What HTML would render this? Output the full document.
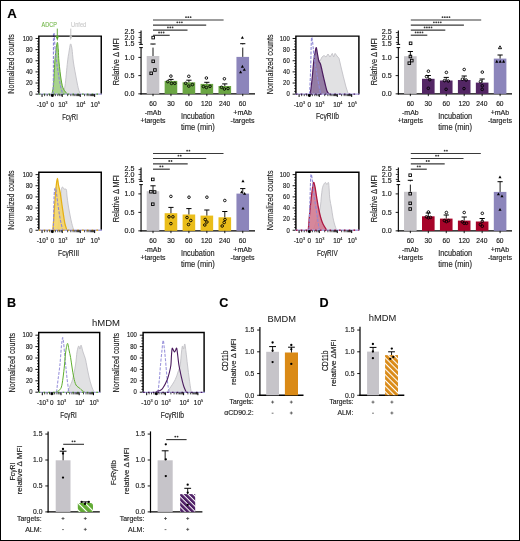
<!DOCTYPE html>
<html><head><meta charset="utf-8"><style>
html,body{margin:0;padding:0;background:#fff;}
body{width:520px;height:541px;overflow:hidden;position:relative;}
.frame{position:absolute;left:0;top:0;width:518px;height:539px;border:1px solid #000;pointer-events:none;}
svg{display:block;position:absolute;left:0;top:0;will-change:transform;}
text{font-family:"Liberation Sans",sans-serif;}
</style></head><body>
<svg width="520" height="541" viewBox="0 0 520 541" font-family="Liberation Sans, sans-serif">
<rect x="0" y="0" width="520" height="541" fill="#fff"/>
<defs><pattern id="stG" patternUnits="userSpaceOnUse" width="5.0" height="5.0" patternTransform="rotate(-45)"><rect width="5.0" height="5.0" fill="#fff"/><rect width="3.9" height="5.0" fill="#62ab35"/></pattern><pattern id="stP" patternUnits="userSpaceOnUse" width="3.6" height="3.6" patternTransform="rotate(-45)"><rect width="3.6" height="3.6" fill="#fff"/><rect width="2.6" height="3.6" fill="#4e1f66"/></pattern><pattern id="stO" patternUnits="userSpaceOnUse" width="4.0" height="4.0" patternTransform="rotate(-45)"><rect width="4.0" height="4.0" fill="#fff"/><rect width="2.9" height="4.0" fill="#da8a16"/></pattern></defs>
<text x="7.30" y="17.60" font-size="13.2" text-anchor="start" fill="#000" stroke="#000" stroke-width="0.15" font-weight="bold">A</text>
<text x="7.10" y="307.20" font-size="12.6" text-anchor="start" fill="#000" stroke="#000" stroke-width="0.15" font-weight="bold">B</text>
<text x="219.30" y="307.30" font-size="12.6" text-anchor="start" fill="#000" stroke="#000" stroke-width="0.15" font-weight="bold">C</text>
<text x="319.60" y="307.20" font-size="12.6" text-anchor="start" fill="#000" stroke="#000" stroke-width="0.15" font-weight="bold">D</text>
<clipPath id="c1"><rect x="38.85" y="33.10" width="62.40" height="61.05"/></clipPath>
<text x="32.65" y="40.75" font-size="6.5" text-anchor="end" fill="#1e1e1e" stroke="#1e1e1e" stroke-width="0.16" textLength="9.90" lengthAdjust="spacingAndGlyphs">100</text>
<line x1="35.55" y1="38.50" x2="38.85" y2="38.50" stroke="#000" stroke-width="0.9" />
<text x="32.65" y="51.88" font-size="6.5" text-anchor="end" fill="#1e1e1e" stroke="#1e1e1e" stroke-width="0.16" textLength="6.60" lengthAdjust="spacingAndGlyphs">80</text>
<line x1="35.55" y1="49.63" x2="38.85" y2="49.63" stroke="#000" stroke-width="0.9" />
<text x="32.65" y="63.01" font-size="6.5" text-anchor="end" fill="#1e1e1e" stroke="#1e1e1e" stroke-width="0.16" textLength="6.60" lengthAdjust="spacingAndGlyphs">60</text>
<line x1="35.55" y1="60.76" x2="38.85" y2="60.76" stroke="#000" stroke-width="0.9" />
<text x="32.65" y="74.14" font-size="6.5" text-anchor="end" fill="#1e1e1e" stroke="#1e1e1e" stroke-width="0.16" textLength="6.60" lengthAdjust="spacingAndGlyphs">40</text>
<line x1="35.55" y1="71.89" x2="38.85" y2="71.89" stroke="#000" stroke-width="0.9" />
<text x="32.65" y="85.27" font-size="6.5" text-anchor="end" fill="#1e1e1e" stroke="#1e1e1e" stroke-width="0.16" textLength="6.60" lengthAdjust="spacingAndGlyphs">20</text>
<line x1="35.55" y1="83.02" x2="38.85" y2="83.02" stroke="#000" stroke-width="0.9" />
<text x="32.65" y="96.40" font-size="6.5" text-anchor="end" fill="#1e1e1e" stroke="#1e1e1e" stroke-width="0.16" textLength="3.30" lengthAdjust="spacingAndGlyphs">0</text>
<line x1="35.55" y1="94.15" x2="38.85" y2="94.15" stroke="#000" stroke-width="0.9" />
<line x1="37.15" y1="91.37" x2="38.85" y2="91.37" stroke="#000" stroke-width="0.8" />
<line x1="37.15" y1="88.59" x2="38.85" y2="88.59" stroke="#000" stroke-width="0.8" />
<line x1="37.15" y1="85.80" x2="38.85" y2="85.80" stroke="#000" stroke-width="0.8" />
<line x1="37.15" y1="80.24" x2="38.85" y2="80.24" stroke="#000" stroke-width="0.8" />
<line x1="37.15" y1="77.46" x2="38.85" y2="77.46" stroke="#000" stroke-width="0.8" />
<line x1="37.15" y1="74.67" x2="38.85" y2="74.67" stroke="#000" stroke-width="0.8" />
<line x1="37.15" y1="69.11" x2="38.85" y2="69.11" stroke="#000" stroke-width="0.8" />
<line x1="37.15" y1="66.33" x2="38.85" y2="66.33" stroke="#000" stroke-width="0.8" />
<line x1="37.15" y1="63.54" x2="38.85" y2="63.54" stroke="#000" stroke-width="0.8" />
<line x1="37.15" y1="57.98" x2="38.85" y2="57.98" stroke="#000" stroke-width="0.8" />
<line x1="37.15" y1="55.20" x2="38.85" y2="55.20" stroke="#000" stroke-width="0.8" />
<line x1="37.15" y1="52.41" x2="38.85" y2="52.41" stroke="#000" stroke-width="0.8" />
<line x1="37.15" y1="46.85" x2="38.85" y2="46.85" stroke="#000" stroke-width="0.8" />
<line x1="37.15" y1="44.06" x2="38.85" y2="44.06" stroke="#000" stroke-width="0.8" />
<line x1="37.15" y1="41.28" x2="38.85" y2="41.28" stroke="#000" stroke-width="0.8" />
<text x="14.40" y="64.00" font-size="8.6" text-anchor="middle" fill="#1e1e1e" stroke="#1e1e1e" stroke-width="0.16" textLength="59.50" lengthAdjust="spacingAndGlyphs" transform="rotate(-90 14.40 64.00)">Normalized counts</text>
<path d="M62.60,94.15 C63.00,92.79 64.18,91.36 65.00,86.00 C65.82,80.64 66.78,68.00 67.50,62.00 C68.22,56.00 68.78,53.02 69.30,50.00 C69.82,46.98 70.15,44.07 70.60,43.90 C71.05,43.73 71.53,45.98 72.00,49.00 C72.47,52.02 72.63,56.83 73.40,62.00 C74.17,67.17 75.75,75.50 76.60,80.00 C77.45,84.50 77.88,86.64 78.50,89.00 C79.12,91.36 80.00,93.29 80.30,94.15 Z" fill="#e1e1e3" fill-opacity="1.0" stroke="none" clip-path="url(#c1)"/>
<path d="M62.60,94.15 C63.00,92.79 64.18,91.36 65.00,86.00 C65.82,80.64 66.78,68.00 67.50,62.00 C68.22,56.00 68.78,53.02 69.30,50.00 C69.82,46.98 70.15,44.07 70.60,43.90 C71.05,43.73 71.53,45.98 72.00,49.00 C72.47,52.02 72.63,56.83 73.40,62.00 C74.17,67.17 75.75,75.50 76.60,80.00 C77.45,84.50 77.88,86.64 78.50,89.00 C79.12,91.36 80.00,93.29 80.30,94.15" fill="none" stroke="#c2c1c6" stroke-width="0.9" stroke-linejoin="round" clip-path="url(#c1)"/>
<path d="M51.80,94.15 C52.08,92.62 53.00,90.36 53.50,85.00 C54.00,79.64 54.38,67.83 54.80,62.00 C55.22,56.17 55.57,53.28 56.00,50.00 C56.43,46.72 57.02,42.30 57.40,42.30 C57.78,42.30 58.03,46.72 58.30,50.00 C58.57,53.28 58.52,57.00 59.00,62.00 C59.48,67.00 60.45,75.50 61.20,80.00 C61.95,84.50 62.45,86.64 63.50,89.00 C64.55,91.36 66.83,93.29 67.50,94.15 Z" fill="#a4d189" fill-opacity="0.95" stroke="none" clip-path="url(#c1)"/>
<path d="M51.80,94.15 C52.08,92.62 53.00,90.36 53.50,85.00 C54.00,79.64 54.38,67.83 54.80,62.00 C55.22,56.17 55.57,53.28 56.00,50.00 C56.43,46.72 57.02,42.30 57.40,42.30 C57.78,42.30 58.03,46.72 58.30,50.00 C58.57,53.28 58.52,57.00 59.00,62.00 C59.48,67.00 60.45,75.50 61.20,80.00 C61.95,84.50 62.45,86.64 63.50,89.00 C64.55,91.36 66.83,93.29 67.50,94.15" fill="none" stroke="#5ea832" stroke-width="1.0" stroke-linejoin="round" clip-path="url(#c1)"/>
<path d="M53.20,94.15 C53.23,90.12 53.35,80.69 53.40,70.00 C53.45,59.31 53.42,36.67 53.50,30.00 C53.58,23.33 53.58,26.33 53.90,30.00 C54.22,33.67 54.75,45.33 55.40,52.00 C56.05,58.67 56.95,64.33 57.80,70.00 C58.65,75.67 59.67,81.97 60.50,86.00 C61.33,90.03 62.42,92.79 62.80,94.15" fill="none" stroke="#8e88d6" stroke-width="1.1" stroke-linejoin="round" stroke-dasharray="3,1.4" clip-path="url(#c1)"/>
<path d="M38.85,94.15 L38.85,36.10 L101.25,36.10 L101.25,94.15" fill="none" stroke="#000" stroke-width="1.45" stroke-linejoin="miter"/>
<line x1="38.15" y1="94.15" x2="101.95" y2="94.15" stroke="#a7a2dc" stroke-width="1.4"/>
<line x1="38.85" y1="94.15" x2="101.25" y2="94.15" stroke="#56a42a" stroke-width="1.3" stroke-dasharray="1.6,3.2"/>
<line x1="42.05" y1="94.15" x2="42.05" y2="96.95" stroke="#000" stroke-width="1.0" />
<line x1="52.35" y1="94.15" x2="52.35" y2="96.95" stroke="#000" stroke-width="1.0" />
<line x1="62.25" y1="94.15" x2="62.25" y2="96.95" stroke="#000" stroke-width="1.0" />
<line x1="80.25" y1="94.15" x2="80.25" y2="96.95" stroke="#000" stroke-width="1.0" />
<line x1="94.65" y1="94.15" x2="94.65" y2="96.95" stroke="#000" stroke-width="1.0" />
<rect x="50.95" y="94.15" width="2.80" height="2.40" fill="#000" />
<line x1="67.67" y1="94.15" x2="67.67" y2="96.15" stroke="#000" stroke-width="0.75" />
<line x1="70.84" y1="94.15" x2="70.84" y2="96.15" stroke="#000" stroke-width="0.75" />
<line x1="73.09" y1="94.15" x2="73.09" y2="96.15" stroke="#000" stroke-width="0.75" />
<line x1="74.83" y1="94.15" x2="74.83" y2="96.15" stroke="#000" stroke-width="0.75" />
<line x1="76.26" y1="94.15" x2="76.26" y2="96.15" stroke="#000" stroke-width="0.75" />
<line x1="77.46" y1="94.15" x2="77.46" y2="96.15" stroke="#000" stroke-width="0.75" />
<line x1="78.51" y1="94.15" x2="78.51" y2="96.15" stroke="#000" stroke-width="0.75" />
<line x1="79.43" y1="94.15" x2="79.43" y2="96.15" stroke="#000" stroke-width="0.75" />
<line x1="84.58" y1="94.15" x2="84.58" y2="96.15" stroke="#000" stroke-width="0.75" />
<line x1="87.12" y1="94.15" x2="87.12" y2="96.15" stroke="#000" stroke-width="0.75" />
<line x1="88.92" y1="94.15" x2="88.92" y2="96.15" stroke="#000" stroke-width="0.75" />
<line x1="90.32" y1="94.15" x2="90.32" y2="96.15" stroke="#000" stroke-width="0.75" />
<line x1="91.46" y1="94.15" x2="91.46" y2="96.15" stroke="#000" stroke-width="0.75" />
<line x1="92.42" y1="94.15" x2="92.42" y2="96.15" stroke="#000" stroke-width="0.75" />
<line x1="93.25" y1="94.15" x2="93.25" y2="96.15" stroke="#000" stroke-width="0.75" />
<line x1="93.99" y1="94.15" x2="93.99" y2="96.15" stroke="#000" stroke-width="0.75" />
<line x1="44.62" y1="94.15" x2="44.62" y2="96.15" stroke="#000" stroke-width="0.75" />
<line x1="47.20" y1="94.15" x2="47.20" y2="96.15" stroke="#000" stroke-width="0.75" />
<line x1="49.78" y1="94.15" x2="49.78" y2="96.15" stroke="#000" stroke-width="0.75" />
<line x1="55.32" y1="94.15" x2="55.32" y2="96.15" stroke="#000" stroke-width="0.75" />
<line x1="57.80" y1="94.15" x2="57.80" y2="96.15" stroke="#000" stroke-width="0.75" />
<line x1="59.77" y1="94.15" x2="59.77" y2="96.15" stroke="#000" stroke-width="0.75" />
<line x1="61.26" y1="94.15" x2="61.26" y2="96.15" stroke="#000" stroke-width="0.75" />
<text x="42.35" y="106.60" font-size="6.4" text-anchor="middle" fill="#1e1e1e" stroke="#1e1e1e" stroke-width="0.16">-10<tspan font-size="3.9" dy="-2.6" stroke-width="0.12">3</tspan></text>
<text x="52.35" y="106.60" font-size="6.4" text-anchor="middle" fill="#1e1e1e" stroke="#1e1e1e" stroke-width="0.16">0</text>
<text x="62.85" y="106.60" font-size="6.4" text-anchor="middle" fill="#1e1e1e" stroke="#1e1e1e" stroke-width="0.16">10<tspan font-size="3.9" dy="-2.6" stroke-width="0.12">3</tspan></text>
<text x="80.85" y="106.60" font-size="6.4" text-anchor="middle" fill="#1e1e1e" stroke="#1e1e1e" stroke-width="0.16">10<tspan font-size="3.9" dy="-2.6" stroke-width="0.12">4</tspan></text>
<text x="95.25" y="106.60" font-size="6.4" text-anchor="middle" fill="#1e1e1e" stroke="#1e1e1e" stroke-width="0.16">10<tspan font-size="3.9" dy="-2.6" stroke-width="0.12">5</tspan></text>
<text x="70.00" y="119.50" font-size="8.4" text-anchor="middle" fill="#1e1e1e" stroke="#1e1e1e" stroke-width="0.16" textLength="15.60" lengthAdjust="spacingAndGlyphs">FcγRI</text>
<text x="49.20" y="26.50" font-size="6.8" text-anchor="middle" fill="#6fb544" stroke="#6fb544" stroke-width="0.1" textLength="15.20" lengthAdjust="spacingAndGlyphs">ADCP</text>
<text x="78.70" y="26.50" font-size="6.8" text-anchor="middle" fill="#c8c8c8" stroke="#c8c8c8" stroke-width="0.1" textLength="15.20" lengthAdjust="spacingAndGlyphs">Unfed</text>
<line x1="57.30" y1="28.60" x2="57.30" y2="38.00" stroke="#56a42a" stroke-width="0.9" />
<path d="M55.7,36.0 L58.9,36.0 L57.3,41.0 Z" fill="#56a42a"/>
<line x1="70.80" y1="28.60" x2="70.80" y2="37.60" stroke="#bdbdbd" stroke-width="0.9" />
<path d="M69.3,35.6 L72.3,35.6 L70.8,40.2 Z" fill="#bdbdbd"/>
<clipPath id="c2"><rect x="295.90" y="33.10" width="63.00" height="61.05"/></clipPath>
<text x="289.70" y="40.75" font-size="6.5" text-anchor="end" fill="#1e1e1e" stroke="#1e1e1e" stroke-width="0.16" textLength="9.90" lengthAdjust="spacingAndGlyphs">100</text>
<line x1="292.60" y1="38.50" x2="295.90" y2="38.50" stroke="#000" stroke-width="0.9" />
<text x="289.70" y="51.88" font-size="6.5" text-anchor="end" fill="#1e1e1e" stroke="#1e1e1e" stroke-width="0.16" textLength="6.60" lengthAdjust="spacingAndGlyphs">80</text>
<line x1="292.60" y1="49.63" x2="295.90" y2="49.63" stroke="#000" stroke-width="0.9" />
<text x="289.70" y="63.01" font-size="6.5" text-anchor="end" fill="#1e1e1e" stroke="#1e1e1e" stroke-width="0.16" textLength="6.60" lengthAdjust="spacingAndGlyphs">60</text>
<line x1="292.60" y1="60.76" x2="295.90" y2="60.76" stroke="#000" stroke-width="0.9" />
<text x="289.70" y="74.14" font-size="6.5" text-anchor="end" fill="#1e1e1e" stroke="#1e1e1e" stroke-width="0.16" textLength="6.60" lengthAdjust="spacingAndGlyphs">40</text>
<line x1="292.60" y1="71.89" x2="295.90" y2="71.89" stroke="#000" stroke-width="0.9" />
<text x="289.70" y="85.27" font-size="6.5" text-anchor="end" fill="#1e1e1e" stroke="#1e1e1e" stroke-width="0.16" textLength="6.60" lengthAdjust="spacingAndGlyphs">20</text>
<line x1="292.60" y1="83.02" x2="295.90" y2="83.02" stroke="#000" stroke-width="0.9" />
<text x="289.70" y="96.40" font-size="6.5" text-anchor="end" fill="#1e1e1e" stroke="#1e1e1e" stroke-width="0.16" textLength="3.30" lengthAdjust="spacingAndGlyphs">0</text>
<line x1="292.60" y1="94.15" x2="295.90" y2="94.15" stroke="#000" stroke-width="0.9" />
<line x1="294.20" y1="91.37" x2="295.90" y2="91.37" stroke="#000" stroke-width="0.8" />
<line x1="294.20" y1="88.59" x2="295.90" y2="88.59" stroke="#000" stroke-width="0.8" />
<line x1="294.20" y1="85.80" x2="295.90" y2="85.80" stroke="#000" stroke-width="0.8" />
<line x1="294.20" y1="80.24" x2="295.90" y2="80.24" stroke="#000" stroke-width="0.8" />
<line x1="294.20" y1="77.46" x2="295.90" y2="77.46" stroke="#000" stroke-width="0.8" />
<line x1="294.20" y1="74.67" x2="295.90" y2="74.67" stroke="#000" stroke-width="0.8" />
<line x1="294.20" y1="69.11" x2="295.90" y2="69.11" stroke="#000" stroke-width="0.8" />
<line x1="294.20" y1="66.33" x2="295.90" y2="66.33" stroke="#000" stroke-width="0.8" />
<line x1="294.20" y1="63.54" x2="295.90" y2="63.54" stroke="#000" stroke-width="0.8" />
<line x1="294.20" y1="57.98" x2="295.90" y2="57.98" stroke="#000" stroke-width="0.8" />
<line x1="294.20" y1="55.20" x2="295.90" y2="55.20" stroke="#000" stroke-width="0.8" />
<line x1="294.20" y1="52.41" x2="295.90" y2="52.41" stroke="#000" stroke-width="0.8" />
<line x1="294.20" y1="46.85" x2="295.90" y2="46.85" stroke="#000" stroke-width="0.8" />
<line x1="294.20" y1="44.06" x2="295.90" y2="44.06" stroke="#000" stroke-width="0.8" />
<line x1="294.20" y1="41.28" x2="295.90" y2="41.28" stroke="#000" stroke-width="0.8" />
<text x="272.60" y="64.30" font-size="8.6" text-anchor="middle" fill="#1e1e1e" stroke="#1e1e1e" stroke-width="0.16" textLength="59.80" lengthAdjust="spacingAndGlyphs" transform="rotate(-90 272.60 64.30)">Normalized counts</text>
<path d="M313.20,94.15 L315.00,75.00 L317.00,62.00 L318.50,59.50 L320.00,61.00 L322.00,57.00 L324.00,55.50 L326.00,57.00 L328.00,54.00 L330.00,57.00 L332.30,53.40 L333.70,57.00 L335.10,53.40 L337.00,56.00 L339.00,58.30 L341.00,67.00 L343.40,76.80 L346.00,87.00 L348.30,94.15 Z" fill="#e1e1e3" fill-opacity="1.0" stroke="none" clip-path="url(#c2)"/>
<path d="M313.20,94.15 L315.00,75.00 L317.00,62.00 L318.50,59.50 L320.00,61.00 L322.00,57.00 L324.00,55.50 L326.00,57.00 L328.00,54.00 L330.00,57.00 L332.30,53.40 L333.70,57.00 L335.10,53.40 L337.00,56.00 L339.00,58.30 L341.00,67.00 L343.40,76.80 L346.00,87.00 L348.30,94.15" fill="none" stroke="#c2c1c6" stroke-width="0.9" stroke-linejoin="round" clip-path="url(#c2)"/>
<path d="M310.20,94.15 C310.50,91.79 311.40,85.56 312.00,80.00 C312.60,74.44 313.27,65.47 313.80,60.80 C314.33,56.13 314.78,54.20 315.20,52.00 C315.62,49.80 315.95,47.43 316.30,47.60 C316.65,47.77 316.88,50.80 317.30,53.00 C317.72,55.20 318.25,58.88 318.80,60.80 C319.35,62.72 319.90,62.13 320.60,64.50 C321.30,66.87 322.28,71.92 323.00,75.00 C323.72,78.08 324.23,80.33 324.90,83.00 C325.57,85.67 326.28,89.14 327.00,91.00 C327.72,92.86 328.83,93.62 329.20,94.15 Z" fill="#8c719c" fill-opacity="0.9" stroke="none" clip-path="url(#c2)"/>
<path d="M310.20,94.15 C310.50,91.79 311.40,85.56 312.00,80.00 C312.60,74.44 313.27,65.47 313.80,60.80 C314.33,56.13 314.78,54.20 315.20,52.00 C315.62,49.80 315.95,47.43 316.30,47.60 C316.65,47.77 316.88,50.80 317.30,53.00 C317.72,55.20 318.25,58.88 318.80,60.80 C319.35,62.72 319.90,62.13 320.60,64.50 C321.30,66.87 322.28,71.92 323.00,75.00 C323.72,78.08 324.23,80.33 324.90,83.00 C325.57,85.67 326.28,89.14 327.00,91.00 C327.72,92.86 328.83,93.62 329.20,94.15" fill="none" stroke="#4a1a5e" stroke-width="1.2" stroke-linejoin="round" clip-path="url(#c2)"/>
<path d="M309.60,94.15 C309.77,90.12 310.30,79.06 310.60,70.00 C310.90,60.94 311.10,44.72 311.40,39.80 C311.70,34.88 311.97,37.97 312.40,40.50 C312.83,43.03 313.23,49.25 314.00,55.00 C314.77,60.75 315.90,68.47 317.00,75.00 C318.10,81.53 320.00,90.96 320.60,94.15" fill="none" stroke="#8e88d6" stroke-width="1.1" stroke-linejoin="round" stroke-dasharray="3,1.4" clip-path="url(#c2)"/>
<path d="M295.90,94.15 L295.90,36.10 L358.90,36.10 L358.90,94.15" fill="none" stroke="#000" stroke-width="1.45" stroke-linejoin="miter"/>
<line x1="295.20" y1="94.15" x2="359.60" y2="94.15" stroke="#a7a2dc" stroke-width="1.4"/>
<line x1="295.90" y1="94.15" x2="358.90" y2="94.15" stroke="#4a1a5e" stroke-width="1.3" stroke-dasharray="1.6,3.2"/>
<line x1="299.10" y1="94.15" x2="299.10" y2="96.95" stroke="#000" stroke-width="1.0" />
<line x1="309.40" y1="94.15" x2="309.40" y2="96.95" stroke="#000" stroke-width="1.0" />
<line x1="319.30" y1="94.15" x2="319.30" y2="96.95" stroke="#000" stroke-width="1.0" />
<line x1="337.30" y1="94.15" x2="337.30" y2="96.95" stroke="#000" stroke-width="1.0" />
<line x1="351.70" y1="94.15" x2="351.70" y2="96.95" stroke="#000" stroke-width="1.0" />
<rect x="308.00" y="94.15" width="2.80" height="2.40" fill="#000" />
<line x1="324.72" y1="94.15" x2="324.72" y2="96.15" stroke="#000" stroke-width="0.75" />
<line x1="327.89" y1="94.15" x2="327.89" y2="96.15" stroke="#000" stroke-width="0.75" />
<line x1="330.14" y1="94.15" x2="330.14" y2="96.15" stroke="#000" stroke-width="0.75" />
<line x1="331.88" y1="94.15" x2="331.88" y2="96.15" stroke="#000" stroke-width="0.75" />
<line x1="333.31" y1="94.15" x2="333.31" y2="96.15" stroke="#000" stroke-width="0.75" />
<line x1="334.51" y1="94.15" x2="334.51" y2="96.15" stroke="#000" stroke-width="0.75" />
<line x1="335.56" y1="94.15" x2="335.56" y2="96.15" stroke="#000" stroke-width="0.75" />
<line x1="336.48" y1="94.15" x2="336.48" y2="96.15" stroke="#000" stroke-width="0.75" />
<line x1="341.63" y1="94.15" x2="341.63" y2="96.15" stroke="#000" stroke-width="0.75" />
<line x1="344.17" y1="94.15" x2="344.17" y2="96.15" stroke="#000" stroke-width="0.75" />
<line x1="345.97" y1="94.15" x2="345.97" y2="96.15" stroke="#000" stroke-width="0.75" />
<line x1="347.37" y1="94.15" x2="347.37" y2="96.15" stroke="#000" stroke-width="0.75" />
<line x1="348.51" y1="94.15" x2="348.51" y2="96.15" stroke="#000" stroke-width="0.75" />
<line x1="349.47" y1="94.15" x2="349.47" y2="96.15" stroke="#000" stroke-width="0.75" />
<line x1="350.30" y1="94.15" x2="350.30" y2="96.15" stroke="#000" stroke-width="0.75" />
<line x1="351.04" y1="94.15" x2="351.04" y2="96.15" stroke="#000" stroke-width="0.75" />
<line x1="301.67" y1="94.15" x2="301.67" y2="96.15" stroke="#000" stroke-width="0.75" />
<line x1="304.25" y1="94.15" x2="304.25" y2="96.15" stroke="#000" stroke-width="0.75" />
<line x1="306.82" y1="94.15" x2="306.82" y2="96.15" stroke="#000" stroke-width="0.75" />
<line x1="312.37" y1="94.15" x2="312.37" y2="96.15" stroke="#000" stroke-width="0.75" />
<line x1="314.84" y1="94.15" x2="314.84" y2="96.15" stroke="#000" stroke-width="0.75" />
<line x1="316.82" y1="94.15" x2="316.82" y2="96.15" stroke="#000" stroke-width="0.75" />
<line x1="318.31" y1="94.15" x2="318.31" y2="96.15" stroke="#000" stroke-width="0.75" />
<text x="299.40" y="106.60" font-size="6.4" text-anchor="middle" fill="#1e1e1e" stroke="#1e1e1e" stroke-width="0.16">-10<tspan font-size="3.9" dy="-2.6" stroke-width="0.12">3</tspan></text>
<text x="309.40" y="106.60" font-size="6.4" text-anchor="middle" fill="#1e1e1e" stroke="#1e1e1e" stroke-width="0.16">0</text>
<text x="319.90" y="106.60" font-size="6.4" text-anchor="middle" fill="#1e1e1e" stroke="#1e1e1e" stroke-width="0.16">10<tspan font-size="3.9" dy="-2.6" stroke-width="0.12">3</tspan></text>
<text x="337.90" y="106.60" font-size="6.4" text-anchor="middle" fill="#1e1e1e" stroke="#1e1e1e" stroke-width="0.16">10<tspan font-size="3.9" dy="-2.6" stroke-width="0.12">4</tspan></text>
<text x="352.30" y="106.60" font-size="6.4" text-anchor="middle" fill="#1e1e1e" stroke="#1e1e1e" stroke-width="0.16">10<tspan font-size="3.9" dy="-2.6" stroke-width="0.12">5</tspan></text>
<text x="327.50" y="119.20" font-size="8.4" text-anchor="middle" fill="#1e1e1e" stroke="#1e1e1e" stroke-width="0.16" textLength="23.00" lengthAdjust="spacingAndGlyphs">FcγRIIb</text>
<clipPath id="c3"><rect x="38.85" y="169.20" width="62.40" height="61.05"/></clipPath>
<text x="32.65" y="176.85" font-size="6.5" text-anchor="end" fill="#1e1e1e" stroke="#1e1e1e" stroke-width="0.16" textLength="9.90" lengthAdjust="spacingAndGlyphs">100</text>
<line x1="35.55" y1="174.60" x2="38.85" y2="174.60" stroke="#000" stroke-width="0.9" />
<text x="32.65" y="187.98" font-size="6.5" text-anchor="end" fill="#1e1e1e" stroke="#1e1e1e" stroke-width="0.16" textLength="6.60" lengthAdjust="spacingAndGlyphs">80</text>
<line x1="35.55" y1="185.73" x2="38.85" y2="185.73" stroke="#000" stroke-width="0.9" />
<text x="32.65" y="199.11" font-size="6.5" text-anchor="end" fill="#1e1e1e" stroke="#1e1e1e" stroke-width="0.16" textLength="6.60" lengthAdjust="spacingAndGlyphs">60</text>
<line x1="35.55" y1="196.86" x2="38.85" y2="196.86" stroke="#000" stroke-width="0.9" />
<text x="32.65" y="210.24" font-size="6.5" text-anchor="end" fill="#1e1e1e" stroke="#1e1e1e" stroke-width="0.16" textLength="6.60" lengthAdjust="spacingAndGlyphs">40</text>
<line x1="35.55" y1="207.99" x2="38.85" y2="207.99" stroke="#000" stroke-width="0.9" />
<text x="32.65" y="221.37" font-size="6.5" text-anchor="end" fill="#1e1e1e" stroke="#1e1e1e" stroke-width="0.16" textLength="6.60" lengthAdjust="spacingAndGlyphs">20</text>
<line x1="35.55" y1="219.12" x2="38.85" y2="219.12" stroke="#000" stroke-width="0.9" />
<text x="32.65" y="232.50" font-size="6.5" text-anchor="end" fill="#1e1e1e" stroke="#1e1e1e" stroke-width="0.16" textLength="3.30" lengthAdjust="spacingAndGlyphs">0</text>
<line x1="35.55" y1="230.25" x2="38.85" y2="230.25" stroke="#000" stroke-width="0.9" />
<line x1="37.15" y1="227.47" x2="38.85" y2="227.47" stroke="#000" stroke-width="0.8" />
<line x1="37.15" y1="224.69" x2="38.85" y2="224.69" stroke="#000" stroke-width="0.8" />
<line x1="37.15" y1="221.90" x2="38.85" y2="221.90" stroke="#000" stroke-width="0.8" />
<line x1="37.15" y1="216.34" x2="38.85" y2="216.34" stroke="#000" stroke-width="0.8" />
<line x1="37.15" y1="213.56" x2="38.85" y2="213.56" stroke="#000" stroke-width="0.8" />
<line x1="37.15" y1="210.77" x2="38.85" y2="210.77" stroke="#000" stroke-width="0.8" />
<line x1="37.15" y1="205.21" x2="38.85" y2="205.21" stroke="#000" stroke-width="0.8" />
<line x1="37.15" y1="202.43" x2="38.85" y2="202.43" stroke="#000" stroke-width="0.8" />
<line x1="37.15" y1="199.64" x2="38.85" y2="199.64" stroke="#000" stroke-width="0.8" />
<line x1="37.15" y1="194.08" x2="38.85" y2="194.08" stroke="#000" stroke-width="0.8" />
<line x1="37.15" y1="191.29" x2="38.85" y2="191.29" stroke="#000" stroke-width="0.8" />
<line x1="37.15" y1="188.51" x2="38.85" y2="188.51" stroke="#000" stroke-width="0.8" />
<line x1="37.15" y1="182.95" x2="38.85" y2="182.95" stroke="#000" stroke-width="0.8" />
<line x1="37.15" y1="180.16" x2="38.85" y2="180.16" stroke="#000" stroke-width="0.8" />
<line x1="37.15" y1="177.38" x2="38.85" y2="177.38" stroke="#000" stroke-width="0.8" />
<text x="14.40" y="200.10" font-size="8.6" text-anchor="middle" fill="#1e1e1e" stroke="#1e1e1e" stroke-width="0.16" textLength="59.50" lengthAdjust="spacingAndGlyphs" transform="rotate(-90 14.40 200.10)">Normalized counts</text>
<path d="M57.50,230.25 C57.83,227.71 58.95,220.88 59.50,215.00 C60.05,209.12 60.47,199.33 60.80,195.00 C61.13,190.67 61.20,190.33 61.50,189.00 C61.80,187.67 62.18,187.00 62.60,187.00 C63.02,187.00 63.38,188.58 64.00,189.00 C64.62,189.42 65.80,188.33 66.30,189.50 C66.80,190.67 66.68,193.42 67.00,196.00 C67.32,198.58 67.70,201.83 68.20,205.00 C68.70,208.17 69.40,211.93 70.00,215.00 C70.60,218.07 71.17,220.86 71.80,223.40 C72.43,225.94 73.47,229.11 73.80,230.25 Z" fill="#e1e1e3" fill-opacity="1.0" stroke="none" clip-path="url(#c3)"/>
<path d="M57.50,230.25 C57.83,227.71 58.95,220.88 59.50,215.00 C60.05,209.12 60.47,199.33 60.80,195.00 C61.13,190.67 61.20,190.33 61.50,189.00 C61.80,187.67 62.18,187.00 62.60,187.00 C63.02,187.00 63.38,188.58 64.00,189.00 C64.62,189.42 65.80,188.33 66.30,189.50 C66.80,190.67 66.68,193.42 67.00,196.00 C67.32,198.58 67.70,201.83 68.20,205.00 C68.70,208.17 69.40,211.93 70.00,215.00 C70.60,218.07 71.17,220.86 71.80,223.40 C72.43,225.94 73.47,229.11 73.80,230.25" fill="none" stroke="#c2c1c6" stroke-width="0.9" stroke-linejoin="round" clip-path="url(#c3)"/>
<path d="M52.80,230.25 C53.00,227.71 53.63,220.04 54.00,215.00 C54.37,209.96 54.62,205.00 55.00,200.00 C55.38,195.00 55.90,188.62 56.30,185.00 C56.70,181.38 57.03,178.30 57.40,178.30 C57.77,178.30 58.03,182.62 58.50,185.00 C58.97,187.38 59.62,189.27 60.20,192.60 C60.78,195.93 61.40,200.90 62.00,205.00 C62.60,209.10 63.30,214.03 63.80,217.20 C64.30,220.37 64.48,221.82 65.00,224.00 C65.52,226.18 66.58,229.21 66.90,230.25 Z" fill="#f3d468" fill-opacity="0.9" stroke="none" clip-path="url(#c3)"/>
<path d="M52.80,230.25 C53.00,227.71 53.63,220.04 54.00,215.00 C54.37,209.96 54.62,205.00 55.00,200.00 C55.38,195.00 55.90,188.62 56.30,185.00 C56.70,181.38 57.03,178.30 57.40,178.30 C57.77,178.30 58.03,182.62 58.50,185.00 C58.97,187.38 59.62,189.27 60.20,192.60 C60.78,195.93 61.40,200.90 62.00,205.00 C62.60,209.10 63.30,214.03 63.80,217.20 C64.30,220.37 64.48,221.82 65.00,224.00 C65.52,226.18 66.58,229.21 66.90,230.25" fill="none" stroke="#e6b012" stroke-width="1.25" stroke-linejoin="round" clip-path="url(#c3)"/>
<path d="M53.40,230.25 C53.50,225.21 53.80,206.71 54.00,200.00 C54.20,193.29 54.38,191.95 54.60,190.00 C54.82,188.05 55.07,188.30 55.30,188.30 C55.53,188.30 55.55,187.22 56.00,190.00 C56.45,192.78 57.33,200.33 58.00,205.00 C58.67,209.67 59.23,213.79 60.00,218.00 C60.77,222.21 62.17,228.21 62.60,230.25" fill="none" stroke="#8e88d6" stroke-width="1.1" stroke-linejoin="round" stroke-dasharray="3,1.4" clip-path="url(#c3)"/>
<path d="M38.85,230.25 L38.85,172.20 L101.25,172.20 L101.25,230.25" fill="none" stroke="#000" stroke-width="1.45" stroke-linejoin="miter"/>
<line x1="38.15" y1="230.25" x2="101.95" y2="230.25" stroke="#a7a2dc" stroke-width="1.4"/>
<line x1="38.85" y1="230.25" x2="101.25" y2="230.25" stroke="#e6b41c" stroke-width="1.3" stroke-dasharray="1.6,3.2"/>
<line x1="42.05" y1="230.25" x2="42.05" y2="233.05" stroke="#000" stroke-width="1.0" />
<line x1="52.35" y1="230.25" x2="52.35" y2="233.05" stroke="#000" stroke-width="1.0" />
<line x1="62.25" y1="230.25" x2="62.25" y2="233.05" stroke="#000" stroke-width="1.0" />
<line x1="80.25" y1="230.25" x2="80.25" y2="233.05" stroke="#000" stroke-width="1.0" />
<line x1="94.65" y1="230.25" x2="94.65" y2="233.05" stroke="#000" stroke-width="1.0" />
<rect x="50.95" y="230.25" width="2.80" height="2.40" fill="#000" />
<line x1="67.67" y1="230.25" x2="67.67" y2="232.25" stroke="#000" stroke-width="0.75" />
<line x1="70.84" y1="230.25" x2="70.84" y2="232.25" stroke="#000" stroke-width="0.75" />
<line x1="73.09" y1="230.25" x2="73.09" y2="232.25" stroke="#000" stroke-width="0.75" />
<line x1="74.83" y1="230.25" x2="74.83" y2="232.25" stroke="#000" stroke-width="0.75" />
<line x1="76.26" y1="230.25" x2="76.26" y2="232.25" stroke="#000" stroke-width="0.75" />
<line x1="77.46" y1="230.25" x2="77.46" y2="232.25" stroke="#000" stroke-width="0.75" />
<line x1="78.51" y1="230.25" x2="78.51" y2="232.25" stroke="#000" stroke-width="0.75" />
<line x1="79.43" y1="230.25" x2="79.43" y2="232.25" stroke="#000" stroke-width="0.75" />
<line x1="84.58" y1="230.25" x2="84.58" y2="232.25" stroke="#000" stroke-width="0.75" />
<line x1="87.12" y1="230.25" x2="87.12" y2="232.25" stroke="#000" stroke-width="0.75" />
<line x1="88.92" y1="230.25" x2="88.92" y2="232.25" stroke="#000" stroke-width="0.75" />
<line x1="90.32" y1="230.25" x2="90.32" y2="232.25" stroke="#000" stroke-width="0.75" />
<line x1="91.46" y1="230.25" x2="91.46" y2="232.25" stroke="#000" stroke-width="0.75" />
<line x1="92.42" y1="230.25" x2="92.42" y2="232.25" stroke="#000" stroke-width="0.75" />
<line x1="93.25" y1="230.25" x2="93.25" y2="232.25" stroke="#000" stroke-width="0.75" />
<line x1="93.99" y1="230.25" x2="93.99" y2="232.25" stroke="#000" stroke-width="0.75" />
<line x1="44.62" y1="230.25" x2="44.62" y2="232.25" stroke="#000" stroke-width="0.75" />
<line x1="47.20" y1="230.25" x2="47.20" y2="232.25" stroke="#000" stroke-width="0.75" />
<line x1="49.78" y1="230.25" x2="49.78" y2="232.25" stroke="#000" stroke-width="0.75" />
<line x1="55.32" y1="230.25" x2="55.32" y2="232.25" stroke="#000" stroke-width="0.75" />
<line x1="57.80" y1="230.25" x2="57.80" y2="232.25" stroke="#000" stroke-width="0.75" />
<line x1="59.77" y1="230.25" x2="59.77" y2="232.25" stroke="#000" stroke-width="0.75" />
<line x1="61.26" y1="230.25" x2="61.26" y2="232.25" stroke="#000" stroke-width="0.75" />
<text x="42.35" y="242.70" font-size="6.4" text-anchor="middle" fill="#1e1e1e" stroke="#1e1e1e" stroke-width="0.16">-10<tspan font-size="3.9" dy="-2.6" stroke-width="0.12">3</tspan></text>
<text x="52.35" y="242.70" font-size="6.4" text-anchor="middle" fill="#1e1e1e" stroke="#1e1e1e" stroke-width="0.16">0</text>
<text x="62.85" y="242.70" font-size="6.4" text-anchor="middle" fill="#1e1e1e" stroke="#1e1e1e" stroke-width="0.16">10<tspan font-size="3.9" dy="-2.6" stroke-width="0.12">3</tspan></text>
<text x="80.85" y="242.70" font-size="6.4" text-anchor="middle" fill="#1e1e1e" stroke="#1e1e1e" stroke-width="0.16">10<tspan font-size="3.9" dy="-2.6" stroke-width="0.12">4</tspan></text>
<text x="95.25" y="242.70" font-size="6.4" text-anchor="middle" fill="#1e1e1e" stroke="#1e1e1e" stroke-width="0.16">10<tspan font-size="3.9" dy="-2.6" stroke-width="0.12">5</tspan></text>
<text x="68.60" y="255.50" font-size="8.4" text-anchor="middle" fill="#1e1e1e" stroke="#1e1e1e" stroke-width="0.16" textLength="21.00" lengthAdjust="spacingAndGlyphs">FcγRIII</text>
<clipPath id="c4"><rect x="295.90" y="169.20" width="63.00" height="61.05"/></clipPath>
<text x="289.70" y="176.85" font-size="6.5" text-anchor="end" fill="#1e1e1e" stroke="#1e1e1e" stroke-width="0.16" textLength="9.90" lengthAdjust="spacingAndGlyphs">100</text>
<line x1="292.60" y1="174.60" x2="295.90" y2="174.60" stroke="#000" stroke-width="0.9" />
<text x="289.70" y="187.98" font-size="6.5" text-anchor="end" fill="#1e1e1e" stroke="#1e1e1e" stroke-width="0.16" textLength="6.60" lengthAdjust="spacingAndGlyphs">80</text>
<line x1="292.60" y1="185.73" x2="295.90" y2="185.73" stroke="#000" stroke-width="0.9" />
<text x="289.70" y="199.11" font-size="6.5" text-anchor="end" fill="#1e1e1e" stroke="#1e1e1e" stroke-width="0.16" textLength="6.60" lengthAdjust="spacingAndGlyphs">60</text>
<line x1="292.60" y1="196.86" x2="295.90" y2="196.86" stroke="#000" stroke-width="0.9" />
<text x="289.70" y="210.24" font-size="6.5" text-anchor="end" fill="#1e1e1e" stroke="#1e1e1e" stroke-width="0.16" textLength="6.60" lengthAdjust="spacingAndGlyphs">40</text>
<line x1="292.60" y1="207.99" x2="295.90" y2="207.99" stroke="#000" stroke-width="0.9" />
<text x="289.70" y="221.37" font-size="6.5" text-anchor="end" fill="#1e1e1e" stroke="#1e1e1e" stroke-width="0.16" textLength="6.60" lengthAdjust="spacingAndGlyphs">20</text>
<line x1="292.60" y1="219.12" x2="295.90" y2="219.12" stroke="#000" stroke-width="0.9" />
<text x="289.70" y="232.50" font-size="6.5" text-anchor="end" fill="#1e1e1e" stroke="#1e1e1e" stroke-width="0.16" textLength="3.30" lengthAdjust="spacingAndGlyphs">0</text>
<line x1="292.60" y1="230.25" x2="295.90" y2="230.25" stroke="#000" stroke-width="0.9" />
<line x1="294.20" y1="227.47" x2="295.90" y2="227.47" stroke="#000" stroke-width="0.8" />
<line x1="294.20" y1="224.69" x2="295.90" y2="224.69" stroke="#000" stroke-width="0.8" />
<line x1="294.20" y1="221.90" x2="295.90" y2="221.90" stroke="#000" stroke-width="0.8" />
<line x1="294.20" y1="216.34" x2="295.90" y2="216.34" stroke="#000" stroke-width="0.8" />
<line x1="294.20" y1="213.56" x2="295.90" y2="213.56" stroke="#000" stroke-width="0.8" />
<line x1="294.20" y1="210.77" x2="295.90" y2="210.77" stroke="#000" stroke-width="0.8" />
<line x1="294.20" y1="205.21" x2="295.90" y2="205.21" stroke="#000" stroke-width="0.8" />
<line x1="294.20" y1="202.43" x2="295.90" y2="202.43" stroke="#000" stroke-width="0.8" />
<line x1="294.20" y1="199.64" x2="295.90" y2="199.64" stroke="#000" stroke-width="0.8" />
<line x1="294.20" y1="194.08" x2="295.90" y2="194.08" stroke="#000" stroke-width="0.8" />
<line x1="294.20" y1="191.29" x2="295.90" y2="191.29" stroke="#000" stroke-width="0.8" />
<line x1="294.20" y1="188.51" x2="295.90" y2="188.51" stroke="#000" stroke-width="0.8" />
<line x1="294.20" y1="182.95" x2="295.90" y2="182.95" stroke="#000" stroke-width="0.8" />
<line x1="294.20" y1="180.16" x2="295.90" y2="180.16" stroke="#000" stroke-width="0.8" />
<line x1="294.20" y1="177.38" x2="295.90" y2="177.38" stroke="#000" stroke-width="0.8" />
<text x="272.60" y="200.40" font-size="8.6" text-anchor="middle" fill="#1e1e1e" stroke="#1e1e1e" stroke-width="0.16" textLength="59.80" lengthAdjust="spacingAndGlyphs" transform="rotate(-90 272.60 200.40)">Normalized counts</text>
<path d="M313.00,230.25 C313.50,228.88 314.83,225.61 316.00,222.00 C317.17,218.39 319.08,213.10 320.00,208.60 C320.92,204.10 321.08,198.48 321.50,195.00 C321.92,191.52 322.08,189.53 322.50,187.70 C322.92,185.87 323.50,184.87 324.00,184.00 C324.50,183.13 325.00,182.42 325.50,182.50 C326.00,182.58 326.50,184.50 327.00,184.50 C327.50,184.50 328.13,181.58 328.50,182.50 C328.87,183.42 328.98,187.28 329.20,190.00 C329.42,192.72 329.42,195.80 329.80,198.80 C330.18,201.80 330.98,204.93 331.50,208.00 C332.02,211.07 332.40,214.53 332.90,217.20 C333.40,219.87 333.88,221.82 334.50,224.00 C335.12,226.18 336.25,229.21 336.60,230.25 Z" fill="#e1e1e3" fill-opacity="1.0" stroke="none" clip-path="url(#c4)"/>
<path d="M313.00,230.25 C313.50,228.88 314.83,225.61 316.00,222.00 C317.17,218.39 319.08,213.10 320.00,208.60 C320.92,204.10 321.08,198.48 321.50,195.00 C321.92,191.52 322.08,189.53 322.50,187.70 C322.92,185.87 323.50,184.87 324.00,184.00 C324.50,183.13 325.00,182.42 325.50,182.50 C326.00,182.58 326.50,184.50 327.00,184.50 C327.50,184.50 328.13,181.58 328.50,182.50 C328.87,183.42 328.98,187.28 329.20,190.00 C329.42,192.72 329.42,195.80 329.80,198.80 C330.18,201.80 330.98,204.93 331.50,208.00 C332.02,211.07 332.40,214.53 332.90,217.20 C333.40,219.87 333.88,221.82 334.50,224.00 C335.12,226.18 336.25,229.21 336.60,230.25" fill="none" stroke="#c2c1c6" stroke-width="0.9" stroke-linejoin="round" clip-path="url(#c4)"/>
<path d="M308.30,230.25 C308.50,227.71 309.05,220.04 309.50,215.00 C309.95,209.96 310.50,204.50 311.00,200.00 C311.50,195.50 312.07,190.95 312.50,188.00 C312.93,185.05 313.18,182.47 313.60,182.30 C314.02,182.13 314.45,184.25 315.00,187.00 C315.55,189.75 316.32,195.30 316.90,198.80 C317.48,202.30 317.88,204.93 318.50,208.00 C319.12,211.07 319.85,214.53 320.60,217.20 C321.35,219.87 321.97,221.82 323.00,224.00 C324.03,226.18 326.17,229.21 326.80,230.25 Z" fill="#d17a90" fill-opacity="0.9" stroke="none" clip-path="url(#c4)"/>
<path d="M308.30,230.25 C308.50,227.71 309.05,220.04 309.50,215.00 C309.95,209.96 310.50,204.50 311.00,200.00 C311.50,195.50 312.07,190.95 312.50,188.00 C312.93,185.05 313.18,182.47 313.60,182.30 C314.02,182.13 314.45,184.25 315.00,187.00 C315.55,189.75 316.32,195.30 316.90,198.80 C317.48,202.30 317.88,204.93 318.50,208.00 C319.12,211.07 319.85,214.53 320.60,217.20 C321.35,219.87 321.97,221.82 323.00,224.00 C324.03,226.18 326.17,229.21 326.80,230.25" fill="none" stroke="#ad1a43" stroke-width="1.3" stroke-linejoin="round" clip-path="url(#c4)"/>
<path d="M309.00,230.25 C309.17,225.21 309.70,209.04 310.00,200.00 C310.30,190.96 310.47,179.67 310.80,176.00 C311.13,172.33 311.47,174.83 312.00,178.00 C312.53,181.17 313.17,188.83 314.00,195.00 C314.83,201.17 316.10,209.12 317.00,215.00 C317.90,220.88 319.00,227.71 319.40,230.25" fill="none" stroke="#8e88d6" stroke-width="1.1" stroke-linejoin="round" stroke-dasharray="3,1.4" clip-path="url(#c4)"/>
<path d="M295.90,230.25 L295.90,172.20 L358.90,172.20 L358.90,230.25" fill="none" stroke="#000" stroke-width="1.45" stroke-linejoin="miter"/>
<line x1="295.20" y1="230.25" x2="359.60" y2="230.25" stroke="#a7a2dc" stroke-width="1.4"/>
<line x1="295.90" y1="230.25" x2="358.90" y2="230.25" stroke="#ad1a43" stroke-width="1.3" stroke-dasharray="1.6,3.2"/>
<line x1="299.10" y1="230.25" x2="299.10" y2="233.05" stroke="#000" stroke-width="1.0" />
<line x1="309.40" y1="230.25" x2="309.40" y2="233.05" stroke="#000" stroke-width="1.0" />
<line x1="319.30" y1="230.25" x2="319.30" y2="233.05" stroke="#000" stroke-width="1.0" />
<line x1="337.30" y1="230.25" x2="337.30" y2="233.05" stroke="#000" stroke-width="1.0" />
<line x1="351.70" y1="230.25" x2="351.70" y2="233.05" stroke="#000" stroke-width="1.0" />
<rect x="308.00" y="230.25" width="2.80" height="2.40" fill="#000" />
<line x1="324.72" y1="230.25" x2="324.72" y2="232.25" stroke="#000" stroke-width="0.75" />
<line x1="327.89" y1="230.25" x2="327.89" y2="232.25" stroke="#000" stroke-width="0.75" />
<line x1="330.14" y1="230.25" x2="330.14" y2="232.25" stroke="#000" stroke-width="0.75" />
<line x1="331.88" y1="230.25" x2="331.88" y2="232.25" stroke="#000" stroke-width="0.75" />
<line x1="333.31" y1="230.25" x2="333.31" y2="232.25" stroke="#000" stroke-width="0.75" />
<line x1="334.51" y1="230.25" x2="334.51" y2="232.25" stroke="#000" stroke-width="0.75" />
<line x1="335.56" y1="230.25" x2="335.56" y2="232.25" stroke="#000" stroke-width="0.75" />
<line x1="336.48" y1="230.25" x2="336.48" y2="232.25" stroke="#000" stroke-width="0.75" />
<line x1="341.63" y1="230.25" x2="341.63" y2="232.25" stroke="#000" stroke-width="0.75" />
<line x1="344.17" y1="230.25" x2="344.17" y2="232.25" stroke="#000" stroke-width="0.75" />
<line x1="345.97" y1="230.25" x2="345.97" y2="232.25" stroke="#000" stroke-width="0.75" />
<line x1="347.37" y1="230.25" x2="347.37" y2="232.25" stroke="#000" stroke-width="0.75" />
<line x1="348.51" y1="230.25" x2="348.51" y2="232.25" stroke="#000" stroke-width="0.75" />
<line x1="349.47" y1="230.25" x2="349.47" y2="232.25" stroke="#000" stroke-width="0.75" />
<line x1="350.30" y1="230.25" x2="350.30" y2="232.25" stroke="#000" stroke-width="0.75" />
<line x1="351.04" y1="230.25" x2="351.04" y2="232.25" stroke="#000" stroke-width="0.75" />
<line x1="301.67" y1="230.25" x2="301.67" y2="232.25" stroke="#000" stroke-width="0.75" />
<line x1="304.25" y1="230.25" x2="304.25" y2="232.25" stroke="#000" stroke-width="0.75" />
<line x1="306.82" y1="230.25" x2="306.82" y2="232.25" stroke="#000" stroke-width="0.75" />
<line x1="312.37" y1="230.25" x2="312.37" y2="232.25" stroke="#000" stroke-width="0.75" />
<line x1="314.84" y1="230.25" x2="314.84" y2="232.25" stroke="#000" stroke-width="0.75" />
<line x1="316.82" y1="230.25" x2="316.82" y2="232.25" stroke="#000" stroke-width="0.75" />
<line x1="318.31" y1="230.25" x2="318.31" y2="232.25" stroke="#000" stroke-width="0.75" />
<text x="299.40" y="242.70" font-size="6.4" text-anchor="middle" fill="#1e1e1e" stroke="#1e1e1e" stroke-width="0.16">-10<tspan font-size="3.9" dy="-2.6" stroke-width="0.12">3</tspan></text>
<text x="309.40" y="242.70" font-size="6.4" text-anchor="middle" fill="#1e1e1e" stroke="#1e1e1e" stroke-width="0.16">0</text>
<text x="319.90" y="242.70" font-size="6.4" text-anchor="middle" fill="#1e1e1e" stroke="#1e1e1e" stroke-width="0.16">10<tspan font-size="3.9" dy="-2.6" stroke-width="0.12">3</tspan></text>
<text x="337.90" y="242.70" font-size="6.4" text-anchor="middle" fill="#1e1e1e" stroke="#1e1e1e" stroke-width="0.16">10<tspan font-size="3.9" dy="-2.6" stroke-width="0.12">4</tspan></text>
<text x="352.30" y="242.70" font-size="6.4" text-anchor="middle" fill="#1e1e1e" stroke="#1e1e1e" stroke-width="0.16">10<tspan font-size="3.9" dy="-2.6" stroke-width="0.12">5</tspan></text>
<text x="327.30" y="255.50" font-size="8.4" text-anchor="middle" fill="#1e1e1e" stroke="#1e1e1e" stroke-width="0.16" textLength="20.80" lengthAdjust="spacingAndGlyphs">FcγRIV</text>
<line x1="141.05" y1="30.60" x2="141.05" y2="44.40" stroke="#000" stroke-width="1.1" />
<line x1="141.05" y1="47.60" x2="141.05" y2="94.45" stroke="#000" stroke-width="1.1" />
<line x1="139.25" y1="44.40" x2="142.85" y2="44.40" stroke="#000" stroke-width="1.0" />
<line x1="139.25" y1="47.60" x2="142.85" y2="47.60" stroke="#000" stroke-width="1.0" />
<line x1="140.50" y1="93.85" x2="255.00" y2="93.85" stroke="#000" stroke-width="1.4" />
<line x1="138.35" y1="93.85" x2="141.05" y2="93.85" stroke="#000" stroke-width="0.9" />
<text x="134.45" y="96.05" font-size="6.4" text-anchor="end" fill="#1e1e1e" stroke="#1e1e1e" stroke-width="0.16" textLength="9.90" lengthAdjust="spacingAndGlyphs">0.0</text>
<line x1="138.35" y1="75.62" x2="141.05" y2="75.62" stroke="#000" stroke-width="0.9" />
<text x="134.45" y="77.83" font-size="6.4" text-anchor="end" fill="#1e1e1e" stroke="#1e1e1e" stroke-width="0.16" textLength="9.90" lengthAdjust="spacingAndGlyphs">0.5</text>
<line x1="138.35" y1="57.40" x2="141.05" y2="57.40" stroke="#000" stroke-width="0.9" />
<text x="134.45" y="59.60" font-size="6.4" text-anchor="end" fill="#1e1e1e" stroke="#1e1e1e" stroke-width="0.16" textLength="9.90" lengthAdjust="spacingAndGlyphs">1.0</text>
<line x1="139.65" y1="84.74" x2="141.05" y2="84.74" stroke="#000" stroke-width="0.0" />
<line x1="138.55" y1="32.60" x2="141.05" y2="32.60" stroke="#000" stroke-width="0.8" />
<text x="134.45" y="33.90" font-size="6.4" text-anchor="end" fill="#1e1e1e" stroke="#1e1e1e" stroke-width="0.16" textLength="9.90" lengthAdjust="spacingAndGlyphs">2.5</text>
<line x1="138.55" y1="37.40" x2="141.05" y2="37.40" stroke="#000" stroke-width="0.8" />
<text x="134.45" y="39.60" font-size="6.4" text-anchor="end" fill="#1e1e1e" stroke="#1e1e1e" stroke-width="0.16" textLength="9.90" lengthAdjust="spacingAndGlyphs">2.0</text>
<line x1="138.55" y1="42.40" x2="141.05" y2="42.40" stroke="#000" stroke-width="0.8" />
<text x="134.45" y="45.60" font-size="6.4" text-anchor="end" fill="#1e1e1e" stroke="#1e1e1e" stroke-width="0.16" textLength="9.90" lengthAdjust="spacingAndGlyphs">1.5</text>
<line x1="139.65" y1="35.00" x2="141.05" y2="35.00" stroke="#000" stroke-width="0.6" />
<line x1="139.65" y1="39.90" x2="141.05" y2="39.90" stroke="#000" stroke-width="0.6" />
<text x="119.50" y="61.70" font-size="8.8" text-anchor="middle" fill="#1e1e1e" stroke="#1e1e1e" stroke-width="0.16" textLength="47.20" lengthAdjust="spacingAndGlyphs" transform="rotate(-90 119.50 61.70)">Relative Δ MFI</text>
<rect x="146.70" y="56.00" width="12.60" height="37.85" fill="#c6c4c9" />
<line x1="153.00" y1="56.00" x2="153.00" y2="47.60" stroke="#000" stroke-width="0.9" />
<line x1="153.00" y1="44.40" x2="153.00" y2="44.00" stroke="#000" stroke-width="0.9" />
<line x1="150.40" y1="44.00" x2="155.60" y2="44.00" stroke="#000" stroke-width="1.0" />
<rect x="151.90" y="36.30" width="2.60" height="2.60" fill="none" stroke="#000" stroke-width="0.9"/>
<rect x="151.90" y="60.00" width="2.60" height="2.60" fill="none" stroke="#000" stroke-width="0.9"/>
<rect x="153.60" y="68.70" width="2.60" height="2.60" fill="none" stroke="#000" stroke-width="0.9"/>
<rect x="149.90" y="72.00" width="2.60" height="2.60" fill="none" stroke="#000" stroke-width="0.9"/>
<line x1="153.00" y1="93.85" x2="153.00" y2="96.15" stroke="#000" stroke-width="0.9" />
<rect x="164.65" y="80.90" width="12.60" height="12.95" fill="#6ba644" />
<line x1="170.95" y1="80.90" x2="170.95" y2="79.40" stroke="#000" stroke-width="0.9" />
<line x1="168.35" y1="79.40" x2="173.55" y2="79.40" stroke="#000" stroke-width="1.0" />
<circle cx="170.90" cy="76.10" r="1.30" fill="none" stroke="#000" stroke-width="0.9"/>
<circle cx="167.80" cy="81.60" r="1.30" fill="none" stroke="#000" stroke-width="0.9"/>
<circle cx="171.50" cy="83.40" r="1.30" fill="none" stroke="#000" stroke-width="0.9"/>
<circle cx="174.80" cy="83.30" r="1.30" fill="none" stroke="#000" stroke-width="0.9"/>
<line x1="170.95" y1="93.85" x2="170.95" y2="96.15" stroke="#000" stroke-width="0.9" />
<rect x="182.60" y="82.30" width="12.60" height="11.55" fill="#6ba644" />
<line x1="188.90" y1="82.30" x2="188.90" y2="80.20" stroke="#000" stroke-width="0.9" />
<line x1="186.30" y1="80.20" x2="191.50" y2="80.20" stroke="#000" stroke-width="1.0" />
<circle cx="188.80" cy="76.30" r="1.30" fill="none" stroke="#000" stroke-width="0.9"/>
<circle cx="185.70" cy="83.30" r="1.30" fill="none" stroke="#000" stroke-width="0.9"/>
<circle cx="188.80" cy="86.10" r="1.30" fill="none" stroke="#000" stroke-width="0.9"/>
<circle cx="192.40" cy="84.60" r="1.30" fill="none" stroke="#000" stroke-width="0.9"/>
<line x1="188.90" y1="93.85" x2="188.90" y2="96.15" stroke="#000" stroke-width="0.9" />
<rect x="200.55" y="83.90" width="12.60" height="9.95" fill="#6ba644" />
<line x1="206.85" y1="83.90" x2="206.85" y2="82.30" stroke="#000" stroke-width="0.9" />
<line x1="204.25" y1="82.30" x2="209.45" y2="82.30" stroke="#000" stroke-width="1.0" />
<circle cx="206.40" cy="78.00" r="1.30" fill="none" stroke="#000" stroke-width="0.9"/>
<circle cx="203.40" cy="86.60" r="1.30" fill="none" stroke="#000" stroke-width="0.9"/>
<circle cx="206.40" cy="87.50" r="1.30" fill="none" stroke="#000" stroke-width="0.9"/>
<circle cx="210.00" cy="86.30" r="1.30" fill="none" stroke="#000" stroke-width="0.9"/>
<line x1="206.85" y1="93.85" x2="206.85" y2="96.15" stroke="#000" stroke-width="0.9" />
<rect x="218.50" y="86.00" width="12.60" height="7.85" fill="#6ba644" />
<line x1="224.80" y1="86.00" x2="224.80" y2="83.90" stroke="#000" stroke-width="0.9" />
<line x1="222.20" y1="83.90" x2="227.40" y2="83.90" stroke="#000" stroke-width="1.0" />
<circle cx="224.40" cy="78.80" r="1.30" fill="none" stroke="#000" stroke-width="0.9"/>
<circle cx="221.50" cy="87.30" r="1.30" fill="none" stroke="#000" stroke-width="0.9"/>
<circle cx="224.40" cy="89.00" r="1.30" fill="none" stroke="#000" stroke-width="0.9"/>
<circle cx="228.00" cy="88.50" r="1.30" fill="none" stroke="#000" stroke-width="0.9"/>
<line x1="224.80" y1="93.85" x2="224.80" y2="96.15" stroke="#000" stroke-width="0.9" />
<rect x="236.45" y="56.90" width="12.60" height="36.95" fill="#8c85bb" />
<line x1="242.75" y1="56.90" x2="242.75" y2="47.60" stroke="#000" stroke-width="0.9" />
<line x1="242.75" y1="44.40" x2="242.75" y2="43.70" stroke="#000" stroke-width="0.9" />
<line x1="240.15" y1="43.70" x2="245.35" y2="43.70" stroke="#000" stroke-width="1.0" />
<path d="M242.40,35.95 L243.95,38.74 L240.85,38.74 Z" fill="#000"/>
<path d="M242.40,64.85 L243.95,67.64 L240.85,67.64 Z" fill="#000"/>
<path d="M244.30,68.05 L245.85,70.84 L242.75,70.84 Z" fill="#000"/>
<path d="M240.60,70.45 L242.15,73.24 L239.05,73.24 Z" fill="#000"/>
<line x1="242.75" y1="93.85" x2="242.75" y2="96.15" stroke="#000" stroke-width="0.9" />
<line x1="153.00" y1="35.30" x2="169.70" y2="35.30" stroke="#3a3a3a" stroke-width="1.2" />
<circle cx="159.05" cy="32.50" r="0.9" fill="#3a3a3a"/>
<circle cx="161.35" cy="32.50" r="0.9" fill="#3a3a3a"/>
<circle cx="163.65" cy="32.50" r="0.9" fill="#3a3a3a"/>
<line x1="153.00" y1="30.20" x2="187.50" y2="30.20" stroke="#3a3a3a" stroke-width="1.2" />
<circle cx="167.95" cy="27.40" r="0.9" fill="#3a3a3a"/>
<circle cx="170.25" cy="27.40" r="0.9" fill="#3a3a3a"/>
<circle cx="172.55" cy="27.40" r="0.9" fill="#3a3a3a"/>
<line x1="153.00" y1="25.10" x2="206.20" y2="25.10" stroke="#3a3a3a" stroke-width="1.2" />
<circle cx="177.30" cy="22.30" r="0.9" fill="#3a3a3a"/>
<circle cx="179.60" cy="22.30" r="0.9" fill="#3a3a3a"/>
<circle cx="181.90" cy="22.30" r="0.9" fill="#3a3a3a"/>
<line x1="153.00" y1="20.00" x2="223.60" y2="20.00" stroke="#3a3a3a" stroke-width="1.2" />
<circle cx="186.00" cy="17.20" r="0.9" fill="#3a3a3a"/>
<circle cx="188.30" cy="17.20" r="0.9" fill="#3a3a3a"/>
<circle cx="190.60" cy="17.20" r="0.9" fill="#3a3a3a"/>
<text x="153.00" y="106.20" font-size="6.7" text-anchor="middle" fill="#1e1e1e" stroke="#1e1e1e" stroke-width="0.16" textLength="7.40" lengthAdjust="spacingAndGlyphs">60</text>
<text x="170.90" y="106.20" font-size="6.7" text-anchor="middle" fill="#1e1e1e" stroke="#1e1e1e" stroke-width="0.16" textLength="7.40" lengthAdjust="spacingAndGlyphs">30</text>
<text x="188.80" y="106.20" font-size="6.7" text-anchor="middle" fill="#1e1e1e" stroke="#1e1e1e" stroke-width="0.16" textLength="7.40" lengthAdjust="spacingAndGlyphs">60</text>
<text x="206.70" y="106.20" font-size="6.7" text-anchor="middle" fill="#1e1e1e" stroke="#1e1e1e" stroke-width="0.16" textLength="11.20" lengthAdjust="spacingAndGlyphs">120</text>
<text x="224.60" y="106.20" font-size="6.7" text-anchor="middle" fill="#1e1e1e" stroke="#1e1e1e" stroke-width="0.16" textLength="11.20" lengthAdjust="spacingAndGlyphs">240</text>
<text x="242.50" y="106.20" font-size="6.7" text-anchor="middle" fill="#1e1e1e" stroke="#1e1e1e" stroke-width="0.16" textLength="7.40" lengthAdjust="spacingAndGlyphs">60</text>
<text x="153.00" y="114.90" font-size="7.0" text-anchor="middle" fill="#1e1e1e" stroke="#1e1e1e" stroke-width="0.16" textLength="16.60" lengthAdjust="spacingAndGlyphs">-mAb</text>
<text x="153.00" y="122.80" font-size="7.0" text-anchor="middle" fill="#1e1e1e" stroke="#1e1e1e" stroke-width="0.16" textLength="25.00" lengthAdjust="spacingAndGlyphs">+targets</text>
<text x="197.80" y="119.10" font-size="8.9" text-anchor="middle" fill="#1e1e1e" stroke="#1e1e1e" stroke-width="0.16" textLength="33.80" lengthAdjust="spacingAndGlyphs">Incubation</text>
<text x="197.80" y="129.80" font-size="8.9" text-anchor="middle" fill="#1e1e1e" stroke="#1e1e1e" stroke-width="0.16" textLength="33.80" lengthAdjust="spacingAndGlyphs">time (min)</text>
<text x="242.60" y="114.90" font-size="7.0" text-anchor="middle" fill="#1e1e1e" stroke="#1e1e1e" stroke-width="0.16" textLength="18.60" lengthAdjust="spacingAndGlyphs">+mAb</text>
<text x="242.60" y="122.80" font-size="7.0" text-anchor="middle" fill="#1e1e1e" stroke="#1e1e1e" stroke-width="0.16" textLength="24.00" lengthAdjust="spacingAndGlyphs">-targets</text>
<line x1="398.35" y1="30.60" x2="398.35" y2="44.40" stroke="#000" stroke-width="1.1" />
<line x1="398.35" y1="47.60" x2="398.35" y2="94.45" stroke="#000" stroke-width="1.1" />
<line x1="396.55" y1="44.40" x2="400.15" y2="44.40" stroke="#000" stroke-width="1.0" />
<line x1="396.55" y1="47.60" x2="400.15" y2="47.60" stroke="#000" stroke-width="1.0" />
<line x1="397.80" y1="93.85" x2="512.00" y2="93.85" stroke="#000" stroke-width="1.4" />
<line x1="395.65" y1="93.85" x2="398.35" y2="93.85" stroke="#000" stroke-width="0.9" />
<text x="391.75" y="96.05" font-size="6.4" text-anchor="end" fill="#1e1e1e" stroke="#1e1e1e" stroke-width="0.16" textLength="9.90" lengthAdjust="spacingAndGlyphs">0.0</text>
<line x1="395.65" y1="75.62" x2="398.35" y2="75.62" stroke="#000" stroke-width="0.9" />
<text x="391.75" y="77.83" font-size="6.4" text-anchor="end" fill="#1e1e1e" stroke="#1e1e1e" stroke-width="0.16" textLength="9.90" lengthAdjust="spacingAndGlyphs">0.5</text>
<line x1="395.65" y1="57.40" x2="398.35" y2="57.40" stroke="#000" stroke-width="0.9" />
<text x="391.75" y="59.60" font-size="6.4" text-anchor="end" fill="#1e1e1e" stroke="#1e1e1e" stroke-width="0.16" textLength="9.90" lengthAdjust="spacingAndGlyphs">1.0</text>
<line x1="396.95" y1="84.74" x2="398.35" y2="84.74" stroke="#000" stroke-width="0.0" />
<line x1="395.85" y1="32.60" x2="398.35" y2="32.60" stroke="#000" stroke-width="0.8" />
<text x="391.75" y="33.90" font-size="6.4" text-anchor="end" fill="#1e1e1e" stroke="#1e1e1e" stroke-width="0.16" textLength="9.90" lengthAdjust="spacingAndGlyphs">2.5</text>
<line x1="395.85" y1="37.40" x2="398.35" y2="37.40" stroke="#000" stroke-width="0.8" />
<text x="391.75" y="39.60" font-size="6.4" text-anchor="end" fill="#1e1e1e" stroke="#1e1e1e" stroke-width="0.16" textLength="9.90" lengthAdjust="spacingAndGlyphs">2.0</text>
<line x1="395.85" y1="42.40" x2="398.35" y2="42.40" stroke="#000" stroke-width="0.8" />
<text x="391.75" y="45.60" font-size="6.4" text-anchor="end" fill="#1e1e1e" stroke="#1e1e1e" stroke-width="0.16" textLength="9.90" lengthAdjust="spacingAndGlyphs">1.5</text>
<line x1="396.95" y1="35.00" x2="398.35" y2="35.00" stroke="#000" stroke-width="0.6" />
<line x1="396.95" y1="39.90" x2="398.35" y2="39.90" stroke="#000" stroke-width="0.6" />
<text x="376.85" y="61.70" font-size="8.8" text-anchor="middle" fill="#1e1e1e" stroke="#1e1e1e" stroke-width="0.16" textLength="47.20" lengthAdjust="spacingAndGlyphs" transform="rotate(-90 376.85 61.70)">Relative Δ MFI</text>
<rect x="404.05" y="56.20" width="12.60" height="37.65" fill="#c6c4c9" />
<line x1="410.35" y1="56.20" x2="410.35" y2="51.50" stroke="#000" stroke-width="0.9" />
<line x1="407.75" y1="51.50" x2="412.95" y2="51.50" stroke="#000" stroke-width="1.0" />
<rect x="409.30" y="42.00" width="2.60" height="2.60" fill="none" stroke="#000" stroke-width="0.9"/>
<rect x="409.10" y="55.20" width="2.60" height="2.60" fill="none" stroke="#000" stroke-width="0.9"/>
<rect x="410.50" y="59.30" width="2.60" height="2.60" fill="none" stroke="#000" stroke-width="0.9"/>
<rect x="408.00" y="61.90" width="2.60" height="2.60" fill="none" stroke="#000" stroke-width="0.9"/>
<line x1="410.35" y1="93.85" x2="410.35" y2="96.15" stroke="#000" stroke-width="0.9" />
<rect x="422.00" y="78.80" width="12.60" height="15.05" fill="#532664" />
<line x1="428.30" y1="78.80" x2="428.30" y2="75.50" stroke="#000" stroke-width="0.9" />
<line x1="425.70" y1="75.50" x2="430.90" y2="75.50" stroke="#000" stroke-width="1.0" />
<circle cx="428.40" cy="71.20" r="1.30" fill="none" stroke="#000" stroke-width="0.9"/>
<circle cx="426.50" cy="76.60" r="1.30" fill="none" stroke="#000" stroke-width="0.9"/>
<circle cx="429.80" cy="79.70" r="1.30" fill="none" stroke="#000" stroke-width="0.9"/>
<circle cx="428.30" cy="88.30" r="1.30" fill="none" stroke="#000" stroke-width="0.9"/>
<line x1="428.30" y1="93.85" x2="428.30" y2="96.15" stroke="#000" stroke-width="0.9" />
<rect x="439.95" y="80.50" width="12.60" height="13.35" fill="#532664" />
<line x1="446.25" y1="80.50" x2="446.25" y2="77.40" stroke="#000" stroke-width="0.9" />
<line x1="443.65" y1="77.40" x2="448.85" y2="77.40" stroke="#000" stroke-width="1.0" />
<circle cx="446.40" cy="72.40" r="1.30" fill="none" stroke="#000" stroke-width="0.9"/>
<circle cx="444.50" cy="80.60" r="1.30" fill="none" stroke="#000" stroke-width="0.9"/>
<circle cx="448.30" cy="81.00" r="1.30" fill="none" stroke="#000" stroke-width="0.9"/>
<circle cx="446.10" cy="89.30" r="1.30" fill="none" stroke="#000" stroke-width="0.9"/>
<line x1="446.25" y1="93.85" x2="446.25" y2="96.15" stroke="#000" stroke-width="0.9" />
<rect x="457.90" y="80.00" width="12.60" height="13.85" fill="#532664" />
<line x1="464.20" y1="80.00" x2="464.20" y2="76.00" stroke="#000" stroke-width="0.9" />
<line x1="461.60" y1="76.00" x2="466.80" y2="76.00" stroke="#000" stroke-width="1.0" />
<circle cx="464.20" cy="69.50" r="1.30" fill="none" stroke="#000" stroke-width="0.9"/>
<circle cx="462.40" cy="79.20" r="1.30" fill="none" stroke="#000" stroke-width="0.9"/>
<circle cx="466.10" cy="80.00" r="1.30" fill="none" stroke="#000" stroke-width="0.9"/>
<circle cx="464.00" cy="88.60" r="1.30" fill="none" stroke="#000" stroke-width="0.9"/>
<line x1="464.20" y1="93.85" x2="464.20" y2="96.15" stroke="#000" stroke-width="0.9" />
<rect x="475.85" y="82.60" width="12.60" height="11.25" fill="#532664" />
<line x1="482.15" y1="82.60" x2="482.15" y2="79.00" stroke="#000" stroke-width="0.9" />
<line x1="479.55" y1="79.00" x2="484.75" y2="79.00" stroke="#000" stroke-width="1.0" />
<circle cx="482.30" cy="72.10" r="1.30" fill="none" stroke="#000" stroke-width="0.9"/>
<circle cx="480.50" cy="81.60" r="1.30" fill="none" stroke="#000" stroke-width="0.9"/>
<circle cx="482.30" cy="85.80" r="1.30" fill="none" stroke="#000" stroke-width="0.9"/>
<circle cx="482.20" cy="89.40" r="1.30" fill="none" stroke="#000" stroke-width="0.9"/>
<line x1="482.15" y1="93.85" x2="482.15" y2="96.15" stroke="#000" stroke-width="0.9" />
<rect x="493.80" y="58.60" width="12.60" height="35.25" fill="#8c85bb" />
<line x1="500.10" y1="58.60" x2="500.10" y2="55.00" stroke="#000" stroke-width="0.9" />
<line x1="497.50" y1="55.00" x2="502.70" y2="55.00" stroke="#000" stroke-width="1.0" />
<path d="M500.00,45.80 L501.60,48.68 L498.40,48.68 Z" fill="none" stroke="#000" stroke-width="0.9"/>
<path d="M496.80,59.85 L498.35,62.64 L495.25,62.64 Z" fill="#000"/>
<path d="M500.20,59.85 L501.75,62.64 L498.65,62.64 Z" fill="#000"/>
<path d="M503.60,59.85 L505.15,62.64 L502.05,62.64 Z" fill="#000"/>
<line x1="500.10" y1="93.85" x2="500.10" y2="96.15" stroke="#000" stroke-width="0.9" />
<line x1="410.80" y1="35.20" x2="427.30" y2="35.20" stroke="#3a3a3a" stroke-width="1.2" />
<circle cx="415.60" cy="32.40" r="0.9" fill="#3a3a3a"/>
<circle cx="417.90" cy="32.40" r="0.9" fill="#3a3a3a"/>
<circle cx="420.20" cy="32.40" r="0.9" fill="#3a3a3a"/>
<circle cx="422.50" cy="32.40" r="0.9" fill="#3a3a3a"/>
<line x1="410.80" y1="30.20" x2="445.30" y2="30.20" stroke="#3a3a3a" stroke-width="1.2" />
<circle cx="424.60" cy="27.40" r="0.9" fill="#3a3a3a"/>
<circle cx="426.90" cy="27.40" r="0.9" fill="#3a3a3a"/>
<circle cx="429.20" cy="27.40" r="0.9" fill="#3a3a3a"/>
<circle cx="431.50" cy="27.40" r="0.9" fill="#3a3a3a"/>
<line x1="410.80" y1="25.10" x2="463.90" y2="25.10" stroke="#3a3a3a" stroke-width="1.2" />
<circle cx="433.90" cy="22.30" r="0.9" fill="#3a3a3a"/>
<circle cx="436.20" cy="22.30" r="0.9" fill="#3a3a3a"/>
<circle cx="438.50" cy="22.30" r="0.9" fill="#3a3a3a"/>
<circle cx="440.80" cy="22.30" r="0.9" fill="#3a3a3a"/>
<line x1="410.80" y1="20.00" x2="481.20" y2="20.00" stroke="#3a3a3a" stroke-width="1.2" />
<circle cx="442.55" cy="17.20" r="0.9" fill="#3a3a3a"/>
<circle cx="444.85" cy="17.20" r="0.9" fill="#3a3a3a"/>
<circle cx="447.15" cy="17.20" r="0.9" fill="#3a3a3a"/>
<circle cx="449.45" cy="17.20" r="0.9" fill="#3a3a3a"/>
<text x="410.35" y="106.20" font-size="6.7" text-anchor="middle" fill="#1e1e1e" stroke="#1e1e1e" stroke-width="0.16" textLength="7.40" lengthAdjust="spacingAndGlyphs">60</text>
<text x="428.25" y="106.20" font-size="6.7" text-anchor="middle" fill="#1e1e1e" stroke="#1e1e1e" stroke-width="0.16" textLength="7.40" lengthAdjust="spacingAndGlyphs">30</text>
<text x="446.15" y="106.20" font-size="6.7" text-anchor="middle" fill="#1e1e1e" stroke="#1e1e1e" stroke-width="0.16" textLength="7.40" lengthAdjust="spacingAndGlyphs">60</text>
<text x="464.05" y="106.20" font-size="6.7" text-anchor="middle" fill="#1e1e1e" stroke="#1e1e1e" stroke-width="0.16" textLength="11.20" lengthAdjust="spacingAndGlyphs">120</text>
<text x="481.95" y="106.20" font-size="6.7" text-anchor="middle" fill="#1e1e1e" stroke="#1e1e1e" stroke-width="0.16" textLength="11.20" lengthAdjust="spacingAndGlyphs">240</text>
<text x="499.85" y="106.20" font-size="6.7" text-anchor="middle" fill="#1e1e1e" stroke="#1e1e1e" stroke-width="0.16" textLength="7.40" lengthAdjust="spacingAndGlyphs">60</text>
<text x="410.35" y="114.90" font-size="7.0" text-anchor="middle" fill="#1e1e1e" stroke="#1e1e1e" stroke-width="0.16" textLength="16.60" lengthAdjust="spacingAndGlyphs">-mAb</text>
<text x="410.35" y="122.80" font-size="7.0" text-anchor="middle" fill="#1e1e1e" stroke="#1e1e1e" stroke-width="0.16" textLength="25.00" lengthAdjust="spacingAndGlyphs">+targets</text>
<text x="455.15" y="119.10" font-size="8.9" text-anchor="middle" fill="#1e1e1e" stroke="#1e1e1e" stroke-width="0.16" textLength="33.80" lengthAdjust="spacingAndGlyphs">Incubation</text>
<text x="455.15" y="129.80" font-size="8.9" text-anchor="middle" fill="#1e1e1e" stroke="#1e1e1e" stroke-width="0.16" textLength="33.80" lengthAdjust="spacingAndGlyphs">time (min)</text>
<text x="499.95" y="114.90" font-size="7.0" text-anchor="middle" fill="#1e1e1e" stroke="#1e1e1e" stroke-width="0.16" textLength="18.60" lengthAdjust="spacingAndGlyphs">+mAb</text>
<text x="499.95" y="122.80" font-size="7.0" text-anchor="middle" fill="#1e1e1e" stroke="#1e1e1e" stroke-width="0.16" textLength="24.00" lengthAdjust="spacingAndGlyphs">-targets</text>
<line x1="141.05" y1="167.60" x2="141.05" y2="181.40" stroke="#000" stroke-width="1.1" />
<line x1="141.05" y1="184.60" x2="141.05" y2="231.45" stroke="#000" stroke-width="1.1" />
<line x1="139.25" y1="181.40" x2="142.85" y2="181.40" stroke="#000" stroke-width="1.0" />
<line x1="139.25" y1="184.60" x2="142.85" y2="184.60" stroke="#000" stroke-width="1.0" />
<line x1="140.50" y1="230.85" x2="255.00" y2="230.85" stroke="#000" stroke-width="1.4" />
<line x1="138.35" y1="230.85" x2="141.05" y2="230.85" stroke="#000" stroke-width="0.9" />
<text x="134.45" y="233.05" font-size="6.4" text-anchor="end" fill="#1e1e1e" stroke="#1e1e1e" stroke-width="0.16" textLength="9.90" lengthAdjust="spacingAndGlyphs">0.0</text>
<line x1="138.35" y1="212.38" x2="141.05" y2="212.38" stroke="#000" stroke-width="0.9" />
<text x="134.45" y="214.57" font-size="6.4" text-anchor="end" fill="#1e1e1e" stroke="#1e1e1e" stroke-width="0.16" textLength="9.90" lengthAdjust="spacingAndGlyphs">0.5</text>
<line x1="138.35" y1="193.90" x2="141.05" y2="193.90" stroke="#000" stroke-width="0.9" />
<text x="134.45" y="196.10" font-size="6.4" text-anchor="end" fill="#1e1e1e" stroke="#1e1e1e" stroke-width="0.16" textLength="9.90" lengthAdjust="spacingAndGlyphs">1.0</text>
<line x1="139.65" y1="221.61" x2="141.05" y2="221.61" stroke="#000" stroke-width="0.0" />
<line x1="138.55" y1="169.60" x2="141.05" y2="169.60" stroke="#000" stroke-width="0.8" />
<text x="134.45" y="170.90" font-size="6.4" text-anchor="end" fill="#1e1e1e" stroke="#1e1e1e" stroke-width="0.16" textLength="9.90" lengthAdjust="spacingAndGlyphs">2.5</text>
<line x1="138.55" y1="174.40" x2="141.05" y2="174.40" stroke="#000" stroke-width="0.8" />
<text x="134.45" y="176.60" font-size="6.4" text-anchor="end" fill="#1e1e1e" stroke="#1e1e1e" stroke-width="0.16" textLength="9.90" lengthAdjust="spacingAndGlyphs">2.0</text>
<line x1="138.55" y1="179.40" x2="141.05" y2="179.40" stroke="#000" stroke-width="0.8" />
<text x="134.45" y="182.60" font-size="6.4" text-anchor="end" fill="#1e1e1e" stroke="#1e1e1e" stroke-width="0.16" textLength="9.90" lengthAdjust="spacingAndGlyphs">1.5</text>
<line x1="139.65" y1="172.00" x2="141.05" y2="172.00" stroke="#000" stroke-width="0.6" />
<line x1="139.65" y1="176.90" x2="141.05" y2="176.90" stroke="#000" stroke-width="0.6" />
<text x="119.50" y="198.70" font-size="8.8" text-anchor="middle" fill="#1e1e1e" stroke="#1e1e1e" stroke-width="0.16" textLength="47.20" lengthAdjust="spacingAndGlyphs" transform="rotate(-90 119.50 198.70)">Relative Δ MFI</text>
<rect x="146.70" y="191.20" width="12.60" height="39.65" fill="#c6c4c9" />
<line x1="153.00" y1="191.20" x2="153.00" y2="185.80" stroke="#000" stroke-width="0.9" />
<line x1="150.40" y1="185.80" x2="155.60" y2="185.80" stroke="#000" stroke-width="1.0" />
<rect x="151.50" y="178.10" width="2.60" height="2.60" fill="none" stroke="#000" stroke-width="0.9"/>
<rect x="149.60" y="190.40" width="2.60" height="2.60" fill="none" stroke="#000" stroke-width="0.9"/>
<rect x="153.30" y="190.70" width="2.60" height="2.60" fill="none" stroke="#000" stroke-width="0.9"/>
<rect x="151.50" y="202.90" width="2.60" height="2.60" fill="none" stroke="#000" stroke-width="0.9"/>
<line x1="153.00" y1="230.85" x2="153.00" y2="233.15" stroke="#000" stroke-width="0.9" />
<rect x="164.65" y="213.20" width="12.60" height="17.65" fill="#eabd1a" />
<line x1="170.95" y1="213.20" x2="170.95" y2="207.40" stroke="#000" stroke-width="0.9" />
<line x1="168.35" y1="207.40" x2="173.55" y2="207.40" stroke="#000" stroke-width="1.0" />
<circle cx="170.90" cy="196.40" r="1.30" fill="none" stroke="#000" stroke-width="0.9"/>
<circle cx="169.00" cy="216.80" r="1.30" fill="none" stroke="#000" stroke-width="0.9"/>
<circle cx="172.90" cy="216.80" r="1.30" fill="none" stroke="#000" stroke-width="0.9"/>
<circle cx="170.90" cy="223.60" r="1.30" fill="none" stroke="#000" stroke-width="0.9"/>
<line x1="170.95" y1="230.85" x2="170.95" y2="233.15" stroke="#000" stroke-width="0.9" />
<rect x="182.60" y="214.50" width="12.60" height="16.35" fill="#eabd1a" />
<line x1="188.90" y1="214.50" x2="188.90" y2="208.60" stroke="#000" stroke-width="0.9" />
<line x1="186.30" y1="208.60" x2="191.50" y2="208.60" stroke="#000" stroke-width="1.0" />
<circle cx="189.00" cy="197.20" r="1.30" fill="none" stroke="#000" stroke-width="0.9"/>
<circle cx="187.00" cy="217.50" r="1.30" fill="none" stroke="#000" stroke-width="0.9"/>
<circle cx="190.80" cy="220.50" r="1.30" fill="none" stroke="#000" stroke-width="0.9"/>
<circle cx="188.50" cy="224.50" r="1.30" fill="none" stroke="#000" stroke-width="0.9"/>
<line x1="188.90" y1="230.85" x2="188.90" y2="233.15" stroke="#000" stroke-width="0.9" />
<rect x="200.55" y="215.60" width="12.60" height="15.25" fill="#eabd1a" />
<line x1="206.85" y1="215.60" x2="206.85" y2="210.00" stroke="#000" stroke-width="0.9" />
<line x1="204.25" y1="210.00" x2="209.45" y2="210.00" stroke="#000" stroke-width="1.0" />
<circle cx="206.90" cy="197.20" r="1.30" fill="none" stroke="#000" stroke-width="0.9"/>
<circle cx="205.20" cy="219.50" r="1.30" fill="none" stroke="#000" stroke-width="0.9"/>
<circle cx="206.90" cy="222.00" r="1.30" fill="none" stroke="#000" stroke-width="0.9"/>
<circle cx="204.80" cy="225.00" r="1.30" fill="none" stroke="#000" stroke-width="0.9"/>
<line x1="206.85" y1="230.85" x2="206.85" y2="233.15" stroke="#000" stroke-width="0.9" />
<rect x="218.50" y="217.30" width="12.60" height="13.55" fill="#eabd1a" />
<line x1="224.80" y1="217.30" x2="224.80" y2="211.50" stroke="#000" stroke-width="0.9" />
<line x1="222.20" y1="211.50" x2="227.40" y2="211.50" stroke="#000" stroke-width="1.0" />
<circle cx="224.80" cy="200.50" r="1.30" fill="none" stroke="#000" stroke-width="0.9"/>
<circle cx="225.00" cy="219.50" r="1.30" fill="none" stroke="#000" stroke-width="0.9"/>
<circle cx="224.20" cy="222.50" r="1.30" fill="none" stroke="#000" stroke-width="0.9"/>
<circle cx="222.20" cy="226.00" r="1.30" fill="none" stroke="#000" stroke-width="0.9"/>
<line x1="224.80" y1="230.85" x2="224.80" y2="233.15" stroke="#000" stroke-width="0.9" />
<rect x="236.45" y="193.60" width="12.60" height="37.25" fill="#8c85bb" />
<line x1="242.75" y1="193.60" x2="242.75" y2="188.60" stroke="#000" stroke-width="0.9" />
<line x1="240.15" y1="188.60" x2="245.35" y2="188.60" stroke="#000" stroke-width="1.0" />
<path d="M243.00,179.45 L244.55,182.24 L241.45,182.24 Z" fill="#000"/>
<path d="M241.60,190.45 L243.15,193.24 L240.05,193.24 Z" fill="#000"/>
<path d="M244.60,192.05 L246.15,194.84 L243.05,194.84 Z" fill="#000"/>
<path d="M243.00,206.65 L244.55,209.44 L241.45,209.44 Z" fill="#000"/>
<line x1="242.75" y1="230.85" x2="242.75" y2="233.15" stroke="#000" stroke-width="0.9" />
<line x1="153.00" y1="169.20" x2="169.80" y2="169.20" stroke="#3a3a3a" stroke-width="1.2" />
<circle cx="160.25" cy="166.40" r="0.9" fill="#3a3a3a"/>
<circle cx="162.55" cy="166.40" r="0.9" fill="#3a3a3a"/>
<line x1="153.00" y1="163.80" x2="187.70" y2="163.80" stroke="#3a3a3a" stroke-width="1.2" />
<circle cx="169.20" cy="161.00" r="0.9" fill="#3a3a3a"/>
<circle cx="171.50" cy="161.00" r="0.9" fill="#3a3a3a"/>
<line x1="153.00" y1="158.50" x2="206.20" y2="158.50" stroke="#3a3a3a" stroke-width="1.2" />
<circle cx="178.45" cy="155.70" r="0.9" fill="#3a3a3a"/>
<circle cx="180.75" cy="155.70" r="0.9" fill="#3a3a3a"/>
<line x1="153.00" y1="153.50" x2="223.50" y2="153.50" stroke="#3a3a3a" stroke-width="1.2" />
<circle cx="187.10" cy="150.70" r="0.9" fill="#3a3a3a"/>
<circle cx="189.40" cy="150.70" r="0.9" fill="#3a3a3a"/>
<text x="153.00" y="243.20" font-size="6.7" text-anchor="middle" fill="#1e1e1e" stroke="#1e1e1e" stroke-width="0.16" textLength="7.40" lengthAdjust="spacingAndGlyphs">60</text>
<text x="170.90" y="243.20" font-size="6.7" text-anchor="middle" fill="#1e1e1e" stroke="#1e1e1e" stroke-width="0.16" textLength="7.40" lengthAdjust="spacingAndGlyphs">30</text>
<text x="188.80" y="243.20" font-size="6.7" text-anchor="middle" fill="#1e1e1e" stroke="#1e1e1e" stroke-width="0.16" textLength="7.40" lengthAdjust="spacingAndGlyphs">60</text>
<text x="206.70" y="243.20" font-size="6.7" text-anchor="middle" fill="#1e1e1e" stroke="#1e1e1e" stroke-width="0.16" textLength="11.20" lengthAdjust="spacingAndGlyphs">120</text>
<text x="224.60" y="243.20" font-size="6.7" text-anchor="middle" fill="#1e1e1e" stroke="#1e1e1e" stroke-width="0.16" textLength="11.20" lengthAdjust="spacingAndGlyphs">240</text>
<text x="242.50" y="243.20" font-size="6.7" text-anchor="middle" fill="#1e1e1e" stroke="#1e1e1e" stroke-width="0.16" textLength="7.40" lengthAdjust="spacingAndGlyphs">60</text>
<text x="153.00" y="251.90" font-size="7.0" text-anchor="middle" fill="#1e1e1e" stroke="#1e1e1e" stroke-width="0.16" textLength="16.60" lengthAdjust="spacingAndGlyphs">-mAb</text>
<text x="153.00" y="259.80" font-size="7.0" text-anchor="middle" fill="#1e1e1e" stroke="#1e1e1e" stroke-width="0.16" textLength="25.00" lengthAdjust="spacingAndGlyphs">+targets</text>
<text x="197.80" y="256.10" font-size="8.9" text-anchor="middle" fill="#1e1e1e" stroke="#1e1e1e" stroke-width="0.16" textLength="33.80" lengthAdjust="spacingAndGlyphs">Incubation</text>
<text x="197.80" y="266.80" font-size="8.9" text-anchor="middle" fill="#1e1e1e" stroke="#1e1e1e" stroke-width="0.16" textLength="33.80" lengthAdjust="spacingAndGlyphs">time (min)</text>
<text x="242.60" y="251.90" font-size="7.0" text-anchor="middle" fill="#1e1e1e" stroke="#1e1e1e" stroke-width="0.16" textLength="18.60" lengthAdjust="spacingAndGlyphs">+mAb</text>
<text x="242.60" y="259.80" font-size="7.0" text-anchor="middle" fill="#1e1e1e" stroke="#1e1e1e" stroke-width="0.16" textLength="24.00" lengthAdjust="spacingAndGlyphs">-targets</text>
<line x1="398.35" y1="167.60" x2="398.35" y2="181.40" stroke="#000" stroke-width="1.1" />
<line x1="398.35" y1="184.60" x2="398.35" y2="231.45" stroke="#000" stroke-width="1.1" />
<line x1="396.55" y1="181.40" x2="400.15" y2="181.40" stroke="#000" stroke-width="1.0" />
<line x1="396.55" y1="184.60" x2="400.15" y2="184.60" stroke="#000" stroke-width="1.0" />
<line x1="397.80" y1="230.85" x2="512.00" y2="230.85" stroke="#000" stroke-width="1.4" />
<line x1="395.65" y1="230.85" x2="398.35" y2="230.85" stroke="#000" stroke-width="0.9" />
<text x="391.75" y="233.05" font-size="6.4" text-anchor="end" fill="#1e1e1e" stroke="#1e1e1e" stroke-width="0.16" textLength="9.90" lengthAdjust="spacingAndGlyphs">0.0</text>
<line x1="395.65" y1="212.38" x2="398.35" y2="212.38" stroke="#000" stroke-width="0.9" />
<text x="391.75" y="214.57" font-size="6.4" text-anchor="end" fill="#1e1e1e" stroke="#1e1e1e" stroke-width="0.16" textLength="9.90" lengthAdjust="spacingAndGlyphs">0.5</text>
<line x1="395.65" y1="193.90" x2="398.35" y2="193.90" stroke="#000" stroke-width="0.9" />
<text x="391.75" y="196.10" font-size="6.4" text-anchor="end" fill="#1e1e1e" stroke="#1e1e1e" stroke-width="0.16" textLength="9.90" lengthAdjust="spacingAndGlyphs">1.0</text>
<line x1="396.95" y1="221.61" x2="398.35" y2="221.61" stroke="#000" stroke-width="0.0" />
<line x1="395.85" y1="169.60" x2="398.35" y2="169.60" stroke="#000" stroke-width="0.8" />
<text x="391.75" y="170.90" font-size="6.4" text-anchor="end" fill="#1e1e1e" stroke="#1e1e1e" stroke-width="0.16" textLength="9.90" lengthAdjust="spacingAndGlyphs">2.5</text>
<line x1="395.85" y1="174.40" x2="398.35" y2="174.40" stroke="#000" stroke-width="0.8" />
<text x="391.75" y="176.60" font-size="6.4" text-anchor="end" fill="#1e1e1e" stroke="#1e1e1e" stroke-width="0.16" textLength="9.90" lengthAdjust="spacingAndGlyphs">2.0</text>
<line x1="395.85" y1="179.40" x2="398.35" y2="179.40" stroke="#000" stroke-width="0.8" />
<text x="391.75" y="182.60" font-size="6.4" text-anchor="end" fill="#1e1e1e" stroke="#1e1e1e" stroke-width="0.16" textLength="9.90" lengthAdjust="spacingAndGlyphs">1.5</text>
<line x1="396.95" y1="172.00" x2="398.35" y2="172.00" stroke="#000" stroke-width="0.6" />
<line x1="396.95" y1="176.90" x2="398.35" y2="176.90" stroke="#000" stroke-width="0.6" />
<text x="376.85" y="198.70" font-size="8.8" text-anchor="middle" fill="#1e1e1e" stroke="#1e1e1e" stroke-width="0.16" textLength="47.20" lengthAdjust="spacingAndGlyphs" transform="rotate(-90 376.85 198.70)">Relative Δ MFI</text>
<rect x="404.05" y="191.80" width="12.60" height="39.05" fill="#c6c4c9" />
<line x1="410.35" y1="191.80" x2="410.35" y2="184.60" stroke="#000" stroke-width="0.9" />
<line x1="410.35" y1="181.40" x2="410.35" y2="180.30" stroke="#000" stroke-width="0.9" />
<line x1="407.75" y1="180.30" x2="412.95" y2="180.30" stroke="#000" stroke-width="1.0" />
<rect x="408.90" y="173.90" width="2.60" height="2.60" fill="none" stroke="#000" stroke-width="0.9"/>
<rect x="408.90" y="192.40" width="2.60" height="2.60" fill="none" stroke="#000" stroke-width="0.9"/>
<rect x="408.90" y="202.00" width="2.60" height="2.60" fill="none" stroke="#000" stroke-width="0.9"/>
<rect x="408.90" y="207.70" width="2.60" height="2.60" fill="none" stroke="#000" stroke-width="0.9"/>
<line x1="410.35" y1="230.85" x2="410.35" y2="233.15" stroke="#000" stroke-width="0.9" />
<rect x="422.00" y="216.30" width="12.60" height="14.55" fill="#a60329" />
<line x1="428.30" y1="216.30" x2="428.30" y2="213.00" stroke="#000" stroke-width="0.9" />
<line x1="425.70" y1="213.00" x2="430.90" y2="213.00" stroke="#000" stroke-width="1.0" />
<circle cx="428.40" cy="212.00" r="1.30" fill="none" stroke="#000" stroke-width="0.9"/>
<circle cx="426.40" cy="216.80" r="1.30" fill="none" stroke="#000" stroke-width="0.9"/>
<circle cx="428.40" cy="217.80" r="1.30" fill="none" stroke="#000" stroke-width="0.9"/>
<circle cx="430.50" cy="217.40" r="1.30" fill="none" stroke="#000" stroke-width="0.9"/>
<line x1="428.30" y1="230.85" x2="428.30" y2="233.15" stroke="#000" stroke-width="0.9" />
<rect x="439.95" y="218.60" width="12.60" height="12.25" fill="#a60329" />
<line x1="446.25" y1="218.60" x2="446.25" y2="215.00" stroke="#000" stroke-width="0.9" />
<line x1="443.65" y1="215.00" x2="448.85" y2="215.00" stroke="#000" stroke-width="1.0" />
<circle cx="446.40" cy="212.50" r="1.30" fill="none" stroke="#000" stroke-width="0.9"/>
<circle cx="444.40" cy="220.60" r="1.30" fill="none" stroke="#000" stroke-width="0.9"/>
<circle cx="446.40" cy="221.60" r="1.30" fill="none" stroke="#000" stroke-width="0.9"/>
<circle cx="448.50" cy="220.60" r="1.30" fill="none" stroke="#000" stroke-width="0.9"/>
<line x1="446.25" y1="230.85" x2="446.25" y2="233.15" stroke="#000" stroke-width="0.9" />
<rect x="457.90" y="220.60" width="12.60" height="10.25" fill="#a60329" />
<line x1="464.20" y1="220.60" x2="464.20" y2="217.00" stroke="#000" stroke-width="0.9" />
<line x1="461.60" y1="217.00" x2="466.80" y2="217.00" stroke="#000" stroke-width="1.0" />
<circle cx="464.20" cy="212.50" r="1.30" fill="none" stroke="#000" stroke-width="0.9"/>
<circle cx="462.30" cy="221.80" r="1.30" fill="none" stroke="#000" stroke-width="0.9"/>
<circle cx="464.20" cy="223.30" r="1.30" fill="none" stroke="#000" stroke-width="0.9"/>
<circle cx="466.50" cy="223.30" r="1.30" fill="none" stroke="#000" stroke-width="0.9"/>
<line x1="464.20" y1="230.85" x2="464.20" y2="233.15" stroke="#000" stroke-width="0.9" />
<rect x="475.85" y="221.50" width="12.60" height="9.35" fill="#a60329" />
<line x1="482.15" y1="221.50" x2="482.15" y2="218.50" stroke="#000" stroke-width="0.9" />
<line x1="479.55" y1="218.50" x2="484.75" y2="218.50" stroke="#000" stroke-width="1.0" />
<circle cx="482.30" cy="213.30" r="1.30" fill="none" stroke="#000" stroke-width="0.9"/>
<circle cx="482.30" cy="221.30" r="1.30" fill="none" stroke="#000" stroke-width="0.9"/>
<circle cx="480.40" cy="224.60" r="1.30" fill="none" stroke="#000" stroke-width="0.9"/>
<circle cx="482.30" cy="226.20" r="1.30" fill="none" stroke="#000" stroke-width="0.9"/>
<line x1="482.15" y1="230.85" x2="482.15" y2="233.15" stroke="#000" stroke-width="0.9" />
<rect x="493.80" y="191.90" width="12.60" height="38.95" fill="#8c85bb" />
<line x1="500.10" y1="191.90" x2="500.10" y2="181.70" stroke="#000" stroke-width="0.9" />
<line x1="497.50" y1="181.70" x2="502.70" y2="181.70" stroke="#000" stroke-width="1.0" />
<path d="M500.00,175.45 L501.55,178.24 L498.45,178.24 Z" fill="#000"/>
<path d="M498.40,192.45 L499.95,195.24 L496.85,195.24 Z" fill="#000"/>
<path d="M502.00,194.45 L503.55,197.24 L500.45,197.24 Z" fill="#000"/>
<path d="M500.00,207.95 L501.55,210.74 L498.45,210.74 Z" fill="#000"/>
<line x1="500.10" y1="230.85" x2="500.10" y2="233.15" stroke="#000" stroke-width="0.9" />
<line x1="410.80" y1="169.20" x2="426.80" y2="169.20" stroke="#3a3a3a" stroke-width="1.2" />
<circle cx="417.65" cy="166.40" r="0.9" fill="#3a3a3a"/>
<circle cx="419.95" cy="166.40" r="0.9" fill="#3a3a3a"/>
<line x1="410.80" y1="163.80" x2="444.70" y2="163.80" stroke="#3a3a3a" stroke-width="1.2" />
<circle cx="426.60" cy="161.00" r="0.9" fill="#3a3a3a"/>
<circle cx="428.90" cy="161.00" r="0.9" fill="#3a3a3a"/>
<line x1="410.80" y1="158.50" x2="463.50" y2="158.50" stroke="#3a3a3a" stroke-width="1.2" />
<circle cx="436.00" cy="155.70" r="0.9" fill="#3a3a3a"/>
<circle cx="438.30" cy="155.70" r="0.9" fill="#3a3a3a"/>
<line x1="410.80" y1="153.50" x2="480.80" y2="153.50" stroke="#3a3a3a" stroke-width="1.2" />
<circle cx="444.65" cy="150.70" r="0.9" fill="#3a3a3a"/>
<circle cx="446.95" cy="150.70" r="0.9" fill="#3a3a3a"/>
<text x="410.35" y="243.20" font-size="6.7" text-anchor="middle" fill="#1e1e1e" stroke="#1e1e1e" stroke-width="0.16" textLength="7.40" lengthAdjust="spacingAndGlyphs">60</text>
<text x="428.25" y="243.20" font-size="6.7" text-anchor="middle" fill="#1e1e1e" stroke="#1e1e1e" stroke-width="0.16" textLength="7.40" lengthAdjust="spacingAndGlyphs">30</text>
<text x="446.15" y="243.20" font-size="6.7" text-anchor="middle" fill="#1e1e1e" stroke="#1e1e1e" stroke-width="0.16" textLength="7.40" lengthAdjust="spacingAndGlyphs">60</text>
<text x="464.05" y="243.20" font-size="6.7" text-anchor="middle" fill="#1e1e1e" stroke="#1e1e1e" stroke-width="0.16" textLength="11.20" lengthAdjust="spacingAndGlyphs">120</text>
<text x="481.95" y="243.20" font-size="6.7" text-anchor="middle" fill="#1e1e1e" stroke="#1e1e1e" stroke-width="0.16" textLength="11.20" lengthAdjust="spacingAndGlyphs">240</text>
<text x="499.85" y="243.20" font-size="6.7" text-anchor="middle" fill="#1e1e1e" stroke="#1e1e1e" stroke-width="0.16" textLength="7.40" lengthAdjust="spacingAndGlyphs">60</text>
<text x="410.35" y="251.90" font-size="7.0" text-anchor="middle" fill="#1e1e1e" stroke="#1e1e1e" stroke-width="0.16" textLength="16.60" lengthAdjust="spacingAndGlyphs">-mAb</text>
<text x="410.35" y="259.80" font-size="7.0" text-anchor="middle" fill="#1e1e1e" stroke="#1e1e1e" stroke-width="0.16" textLength="25.00" lengthAdjust="spacingAndGlyphs">+targets</text>
<text x="455.15" y="256.10" font-size="8.9" text-anchor="middle" fill="#1e1e1e" stroke="#1e1e1e" stroke-width="0.16" textLength="33.80" lengthAdjust="spacingAndGlyphs">Incubation</text>
<text x="455.15" y="266.80" font-size="8.9" text-anchor="middle" fill="#1e1e1e" stroke="#1e1e1e" stroke-width="0.16" textLength="33.80" lengthAdjust="spacingAndGlyphs">time (min)</text>
<text x="499.95" y="251.90" font-size="7.0" text-anchor="middle" fill="#1e1e1e" stroke="#1e1e1e" stroke-width="0.16" textLength="18.60" lengthAdjust="spacingAndGlyphs">+mAb</text>
<text x="499.95" y="259.80" font-size="7.0" text-anchor="middle" fill="#1e1e1e" stroke="#1e1e1e" stroke-width="0.16" textLength="24.00" lengthAdjust="spacingAndGlyphs">-targets</text>
<text x="106.00" y="326.00" font-size="8.6" text-anchor="middle" fill="#1e1e1e" stroke="#1e1e1e" stroke-width="0.05" textLength="28.00" lengthAdjust="spacingAndGlyphs">hMDM</text>
<clipPath id="c5"><rect x="38.70" y="329.40" width="61.00" height="63.00"/></clipPath>
<text x="32.50" y="337.45" font-size="6.5" text-anchor="end" fill="#1e1e1e" stroke="#1e1e1e" stroke-width="0.16" textLength="9.90" lengthAdjust="spacingAndGlyphs">100</text>
<line x1="35.40" y1="335.20" x2="38.70" y2="335.20" stroke="#000" stroke-width="0.9" />
<text x="32.50" y="348.85" font-size="6.5" text-anchor="end" fill="#1e1e1e" stroke="#1e1e1e" stroke-width="0.16" textLength="6.60" lengthAdjust="spacingAndGlyphs">80</text>
<line x1="35.40" y1="346.60" x2="38.70" y2="346.60" stroke="#000" stroke-width="0.9" />
<text x="32.50" y="360.25" font-size="6.5" text-anchor="end" fill="#1e1e1e" stroke="#1e1e1e" stroke-width="0.16" textLength="6.60" lengthAdjust="spacingAndGlyphs">60</text>
<line x1="35.40" y1="358.00" x2="38.70" y2="358.00" stroke="#000" stroke-width="0.9" />
<text x="32.50" y="371.65" font-size="6.5" text-anchor="end" fill="#1e1e1e" stroke="#1e1e1e" stroke-width="0.16" textLength="6.60" lengthAdjust="spacingAndGlyphs">40</text>
<line x1="35.40" y1="369.40" x2="38.70" y2="369.40" stroke="#000" stroke-width="0.9" />
<text x="32.50" y="383.05" font-size="6.5" text-anchor="end" fill="#1e1e1e" stroke="#1e1e1e" stroke-width="0.16" textLength="6.60" lengthAdjust="spacingAndGlyphs">20</text>
<line x1="35.40" y1="380.80" x2="38.70" y2="380.80" stroke="#000" stroke-width="0.9" />
<text x="32.50" y="394.45" font-size="6.5" text-anchor="end" fill="#1e1e1e" stroke="#1e1e1e" stroke-width="0.16" textLength="3.30" lengthAdjust="spacingAndGlyphs">0</text>
<line x1="35.40" y1="392.20" x2="38.70" y2="392.20" stroke="#000" stroke-width="0.9" />
<line x1="37.00" y1="389.35" x2="38.70" y2="389.35" stroke="#000" stroke-width="0.8" />
<line x1="37.00" y1="386.50" x2="38.70" y2="386.50" stroke="#000" stroke-width="0.8" />
<line x1="37.00" y1="383.65" x2="38.70" y2="383.65" stroke="#000" stroke-width="0.8" />
<line x1="37.00" y1="377.95" x2="38.70" y2="377.95" stroke="#000" stroke-width="0.8" />
<line x1="37.00" y1="375.10" x2="38.70" y2="375.10" stroke="#000" stroke-width="0.8" />
<line x1="37.00" y1="372.25" x2="38.70" y2="372.25" stroke="#000" stroke-width="0.8" />
<line x1="37.00" y1="366.55" x2="38.70" y2="366.55" stroke="#000" stroke-width="0.8" />
<line x1="37.00" y1="363.70" x2="38.70" y2="363.70" stroke="#000" stroke-width="0.8" />
<line x1="37.00" y1="360.85" x2="38.70" y2="360.85" stroke="#000" stroke-width="0.8" />
<line x1="37.00" y1="355.15" x2="38.70" y2="355.15" stroke="#000" stroke-width="0.8" />
<line x1="37.00" y1="352.30" x2="38.70" y2="352.30" stroke="#000" stroke-width="0.8" />
<line x1="37.00" y1="349.45" x2="38.70" y2="349.45" stroke="#000" stroke-width="0.8" />
<line x1="37.00" y1="343.75" x2="38.70" y2="343.75" stroke="#000" stroke-width="0.8" />
<line x1="37.00" y1="340.90" x2="38.70" y2="340.90" stroke="#000" stroke-width="0.8" />
<line x1="37.00" y1="338.05" x2="38.70" y2="338.05" stroke="#000" stroke-width="0.8" />
<text x="14.60" y="362.70" font-size="8.6" text-anchor="middle" fill="#1e1e1e" stroke="#1e1e1e" stroke-width="0.16" textLength="59.50" lengthAdjust="spacingAndGlyphs" transform="rotate(-90 14.60 362.70)">Normalized counts</text>
<path d="M67.50,392.20 C67.92,391.17 69.17,388.08 70.00,386.00 C70.83,383.92 71.58,383.20 72.50,379.70 C73.42,376.20 74.75,369.62 75.50,365.00 C76.25,360.38 76.47,355.17 77.00,352.00 C77.53,348.83 78.20,346.50 78.70,346.00 C79.20,345.50 79.60,349.13 80.00,349.00 C80.40,348.87 80.60,344.70 81.10,345.20 C81.60,345.70 82.28,349.73 83.00,352.00 C83.72,354.27 84.73,356.30 85.40,358.80 C86.07,361.30 86.38,363.93 87.00,367.00 C87.62,370.07 88.35,374.03 89.10,377.20 C89.85,380.37 90.68,383.50 91.50,386.00 C92.32,388.50 93.58,391.17 94.00,392.20 Z" fill="#e1e1e3" fill-opacity="1.0" stroke="none" clip-path="url(#c5)"/>
<path d="M67.50,392.20 C67.92,391.17 69.17,388.08 70.00,386.00 C70.83,383.92 71.58,383.20 72.50,379.70 C73.42,376.20 74.75,369.62 75.50,365.00 C76.25,360.38 76.47,355.17 77.00,352.00 C77.53,348.83 78.20,346.50 78.70,346.00 C79.20,345.50 79.60,349.13 80.00,349.00 C80.40,348.87 80.60,344.70 81.10,345.20 C81.60,345.70 82.28,349.73 83.00,352.00 C83.72,354.27 84.73,356.30 85.40,358.80 C86.07,361.30 86.38,363.93 87.00,367.00 C87.62,370.07 88.35,374.03 89.10,377.20 C89.85,380.37 90.68,383.50 91.50,386.00 C92.32,388.50 93.58,391.17 94.00,392.20" fill="none" stroke="#c2c1c6" stroke-width="0.9" stroke-linejoin="round" clip-path="url(#c5)"/>
<path d="M56.50,392.20 C56.75,390.17 57.43,384.53 58.00,380.00 C58.57,375.47 59.33,370.58 59.90,365.00 C60.47,359.42 60.95,351.03 61.40,346.50 C61.85,341.97 62.25,338.55 62.60,337.80 C62.95,337.05 63.18,339.53 63.50,342.00 C63.82,344.47 64.13,348.77 64.50,352.60 C64.87,356.43 65.30,360.90 65.70,365.00 C66.10,369.10 66.38,372.67 66.90,377.20 C67.42,381.73 68.48,389.70 68.80,392.20" fill="none" stroke="#9d97dc" stroke-width="1.1" stroke-linejoin="round" stroke-dasharray="3,1.4" clip-path="url(#c5)"/>
<path d="M55.50,392.20 C56.08,391.92 58.02,391.37 59.00,390.50 C59.98,389.63 60.73,389.08 61.40,387.00 C62.07,384.92 62.48,381.67 63.00,378.00 C63.52,374.33 64.05,369.33 64.50,365.00 C64.95,360.67 65.20,355.60 65.70,352.00 C66.20,348.40 66.95,343.73 67.50,343.40 C68.05,343.07 68.48,347.65 69.00,350.00 C69.52,352.35 70.10,354.67 70.60,357.50 C71.10,360.33 71.48,363.72 72.00,367.00 C72.52,370.28 73.03,374.20 73.70,377.20 C74.37,380.20 74.98,383.15 76.00,385.00 C77.02,386.85 78.80,387.38 79.80,388.30 C80.80,389.22 81.17,389.85 82.00,390.50 C82.83,391.15 84.33,391.92 84.80,392.20" fill="none" stroke="#5fae2e" stroke-width="1.0" stroke-linejoin="round" clip-path="url(#c5)"/>
<path d="M38.70,392.40 L38.70,332.40 L99.70,332.40 L99.70,392.40" fill="none" stroke="#000" stroke-width="1.45" stroke-linejoin="miter"/>
<line x1="38.00" y1="392.40" x2="100.40" y2="392.40" stroke="#a7a2dc" stroke-width="1.4"/>
<line x1="38.70" y1="392.40" x2="99.70" y2="392.40" stroke="#5fae2e" stroke-width="1.3" stroke-dasharray="1.6,3.2"/>
<line x1="42.30" y1="392.40" x2="42.30" y2="395.20" stroke="#000" stroke-width="1.0" />
<line x1="51.90" y1="392.40" x2="51.90" y2="395.20" stroke="#000" stroke-width="1.0" />
<line x1="61.00" y1="392.40" x2="61.00" y2="395.20" stroke="#000" stroke-width="1.0" />
<line x1="79.20" y1="392.40" x2="79.20" y2="395.20" stroke="#000" stroke-width="1.0" />
<line x1="93.50" y1="392.40" x2="93.50" y2="395.20" stroke="#000" stroke-width="1.0" />
<rect x="50.50" y="392.40" width="2.80" height="2.40" fill="#000" />
<line x1="66.48" y1="392.40" x2="66.48" y2="394.40" stroke="#000" stroke-width="0.75" />
<line x1="69.68" y1="392.40" x2="69.68" y2="394.40" stroke="#000" stroke-width="0.75" />
<line x1="71.96" y1="392.40" x2="71.96" y2="394.40" stroke="#000" stroke-width="0.75" />
<line x1="73.72" y1="392.40" x2="73.72" y2="394.40" stroke="#000" stroke-width="0.75" />
<line x1="75.16" y1="392.40" x2="75.16" y2="394.40" stroke="#000" stroke-width="0.75" />
<line x1="76.38" y1="392.40" x2="76.38" y2="394.40" stroke="#000" stroke-width="0.75" />
<line x1="77.44" y1="392.40" x2="77.44" y2="394.40" stroke="#000" stroke-width="0.75" />
<line x1="78.37" y1="392.40" x2="78.37" y2="394.40" stroke="#000" stroke-width="0.75" />
<line x1="83.50" y1="392.40" x2="83.50" y2="394.40" stroke="#000" stroke-width="0.75" />
<line x1="86.02" y1="392.40" x2="86.02" y2="394.40" stroke="#000" stroke-width="0.75" />
<line x1="87.81" y1="392.40" x2="87.81" y2="394.40" stroke="#000" stroke-width="0.75" />
<line x1="89.20" y1="392.40" x2="89.20" y2="394.40" stroke="#000" stroke-width="0.75" />
<line x1="90.33" y1="392.40" x2="90.33" y2="394.40" stroke="#000" stroke-width="0.75" />
<line x1="91.28" y1="392.40" x2="91.28" y2="394.40" stroke="#000" stroke-width="0.75" />
<line x1="92.11" y1="392.40" x2="92.11" y2="394.40" stroke="#000" stroke-width="0.75" />
<line x1="92.85" y1="392.40" x2="92.85" y2="394.40" stroke="#000" stroke-width="0.75" />
<line x1="44.70" y1="392.40" x2="44.70" y2="394.40" stroke="#000" stroke-width="0.75" />
<line x1="47.10" y1="392.40" x2="47.10" y2="394.40" stroke="#000" stroke-width="0.75" />
<line x1="49.50" y1="392.40" x2="49.50" y2="394.40" stroke="#000" stroke-width="0.75" />
<line x1="54.63" y1="392.40" x2="54.63" y2="394.40" stroke="#000" stroke-width="0.75" />
<line x1="56.91" y1="392.40" x2="56.91" y2="394.40" stroke="#000" stroke-width="0.75" />
<line x1="58.73" y1="392.40" x2="58.73" y2="394.40" stroke="#000" stroke-width="0.75" />
<line x1="60.09" y1="392.40" x2="60.09" y2="394.40" stroke="#000" stroke-width="0.75" />
<text x="42.60" y="405.00" font-size="6.4" text-anchor="middle" fill="#1e1e1e" stroke="#1e1e1e" stroke-width="0.16">-10<tspan font-size="3.9" dy="-2.6" stroke-width="0.12">3</tspan></text>
<text x="51.90" y="405.00" font-size="6.4" text-anchor="middle" fill="#1e1e1e" stroke="#1e1e1e" stroke-width="0.16">0</text>
<text x="61.60" y="405.00" font-size="6.4" text-anchor="middle" fill="#1e1e1e" stroke="#1e1e1e" stroke-width="0.16">10<tspan font-size="3.9" dy="-2.6" stroke-width="0.12">3</tspan></text>
<text x="79.80" y="405.00" font-size="6.4" text-anchor="middle" fill="#1e1e1e" stroke="#1e1e1e" stroke-width="0.16">10<tspan font-size="3.9" dy="-2.6" stroke-width="0.12">4</tspan></text>
<text x="94.10" y="405.00" font-size="6.4" text-anchor="middle" fill="#1e1e1e" stroke="#1e1e1e" stroke-width="0.16">10<tspan font-size="3.9" dy="-2.6" stroke-width="0.12">5</tspan></text>
<text x="68.50" y="417.60" font-size="8.4" text-anchor="middle" fill="#1e1e1e" stroke="#1e1e1e" stroke-width="0.16" textLength="16.30" lengthAdjust="spacingAndGlyphs">FcγRI</text>
<clipPath id="c6"><rect x="143.10" y="329.40" width="61.00" height="63.00"/></clipPath>
<text x="136.90" y="337.45" font-size="6.5" text-anchor="end" fill="#1e1e1e" stroke="#1e1e1e" stroke-width="0.16" textLength="9.90" lengthAdjust="spacingAndGlyphs">100</text>
<line x1="139.80" y1="335.20" x2="143.10" y2="335.20" stroke="#000" stroke-width="0.9" />
<text x="136.90" y="348.85" font-size="6.5" text-anchor="end" fill="#1e1e1e" stroke="#1e1e1e" stroke-width="0.16" textLength="6.60" lengthAdjust="spacingAndGlyphs">80</text>
<line x1="139.80" y1="346.60" x2="143.10" y2="346.60" stroke="#000" stroke-width="0.9" />
<text x="136.90" y="360.25" font-size="6.5" text-anchor="end" fill="#1e1e1e" stroke="#1e1e1e" stroke-width="0.16" textLength="6.60" lengthAdjust="spacingAndGlyphs">60</text>
<line x1="139.80" y1="358.00" x2="143.10" y2="358.00" stroke="#000" stroke-width="0.9" />
<text x="136.90" y="371.65" font-size="6.5" text-anchor="end" fill="#1e1e1e" stroke="#1e1e1e" stroke-width="0.16" textLength="6.60" lengthAdjust="spacingAndGlyphs">40</text>
<line x1="139.80" y1="369.40" x2="143.10" y2="369.40" stroke="#000" stroke-width="0.9" />
<text x="136.90" y="383.05" font-size="6.5" text-anchor="end" fill="#1e1e1e" stroke="#1e1e1e" stroke-width="0.16" textLength="6.60" lengthAdjust="spacingAndGlyphs">20</text>
<line x1="139.80" y1="380.80" x2="143.10" y2="380.80" stroke="#000" stroke-width="0.9" />
<text x="136.90" y="394.45" font-size="6.5" text-anchor="end" fill="#1e1e1e" stroke="#1e1e1e" stroke-width="0.16" textLength="3.30" lengthAdjust="spacingAndGlyphs">0</text>
<line x1="139.80" y1="392.20" x2="143.10" y2="392.20" stroke="#000" stroke-width="0.9" />
<line x1="141.40" y1="389.35" x2="143.10" y2="389.35" stroke="#000" stroke-width="0.8" />
<line x1="141.40" y1="386.50" x2="143.10" y2="386.50" stroke="#000" stroke-width="0.8" />
<line x1="141.40" y1="383.65" x2="143.10" y2="383.65" stroke="#000" stroke-width="0.8" />
<line x1="141.40" y1="377.95" x2="143.10" y2="377.95" stroke="#000" stroke-width="0.8" />
<line x1="141.40" y1="375.10" x2="143.10" y2="375.10" stroke="#000" stroke-width="0.8" />
<line x1="141.40" y1="372.25" x2="143.10" y2="372.25" stroke="#000" stroke-width="0.8" />
<line x1="141.40" y1="366.55" x2="143.10" y2="366.55" stroke="#000" stroke-width="0.8" />
<line x1="141.40" y1="363.70" x2="143.10" y2="363.70" stroke="#000" stroke-width="0.8" />
<line x1="141.40" y1="360.85" x2="143.10" y2="360.85" stroke="#000" stroke-width="0.8" />
<line x1="141.40" y1="355.15" x2="143.10" y2="355.15" stroke="#000" stroke-width="0.8" />
<line x1="141.40" y1="352.30" x2="143.10" y2="352.30" stroke="#000" stroke-width="0.8" />
<line x1="141.40" y1="349.45" x2="143.10" y2="349.45" stroke="#000" stroke-width="0.8" />
<line x1="141.40" y1="343.75" x2="143.10" y2="343.75" stroke="#000" stroke-width="0.8" />
<line x1="141.40" y1="340.90" x2="143.10" y2="340.90" stroke="#000" stroke-width="0.8" />
<line x1="141.40" y1="338.05" x2="143.10" y2="338.05" stroke="#000" stroke-width="0.8" />
<text x="119.00" y="362.70" font-size="8.6" text-anchor="middle" fill="#1e1e1e" stroke="#1e1e1e" stroke-width="0.16" textLength="59.50" lengthAdjust="spacingAndGlyphs" transform="rotate(-90 119.00 362.70)">Normalized counts</text>
<path d="M166.60,392.20 C167.17,391.50 168.57,390.08 170.00,388.00 C171.43,385.92 173.87,382.37 175.20,379.70 C176.53,377.03 177.17,374.45 178.00,372.00 C178.83,369.55 179.62,368.33 180.20,365.00 C180.78,361.67 181.12,355.17 181.50,352.00 C181.88,348.83 182.15,346.50 182.50,346.00 C182.85,345.50 183.22,349.33 183.60,349.00 C183.98,348.67 184.40,343.50 184.80,344.00 C185.20,344.50 185.55,348.50 186.00,352.00 C186.45,355.50 186.93,360.33 187.50,365.00 C188.07,369.67 188.78,375.47 189.40,380.00 C190.02,384.53 190.90,390.17 191.20,392.20 Z" fill="#e1e1e3" fill-opacity="1.0" stroke="none" clip-path="url(#c6)"/>
<path d="M166.60,392.20 C167.17,391.50 168.57,390.08 170.00,388.00 C171.43,385.92 173.87,382.37 175.20,379.70 C176.53,377.03 177.17,374.45 178.00,372.00 C178.83,369.55 179.62,368.33 180.20,365.00 C180.78,361.67 181.12,355.17 181.50,352.00 C181.88,348.83 182.15,346.50 182.50,346.00 C182.85,345.50 183.22,349.33 183.60,349.00 C183.98,348.67 184.40,343.50 184.80,344.00 C185.20,344.50 185.55,348.50 186.00,352.00 C186.45,355.50 186.93,360.33 187.50,365.00 C188.07,369.67 188.78,375.47 189.40,380.00 C190.02,384.53 190.90,390.17 191.20,392.20" fill="none" stroke="#c2c1c6" stroke-width="0.9" stroke-linejoin="round" clip-path="url(#c6)"/>
<path d="M158.00,392.20 C158.22,390.17 158.88,384.53 159.30,380.00 C159.72,375.47 160.05,370.00 160.50,365.00 C160.95,360.00 161.55,354.12 162.00,350.00 C162.45,345.88 162.82,340.63 163.20,340.30 C163.58,339.97 163.93,344.92 164.30,348.00 C164.67,351.08 164.92,353.52 165.40,358.80 C165.88,364.08 166.58,374.13 167.20,379.70 C167.82,385.27 168.78,390.12 169.10,392.20" fill="none" stroke="#9d97dc" stroke-width="1.1" stroke-linejoin="round" stroke-dasharray="3,1.4" clip-path="url(#c6)"/>
<path d="M155.50,392.20 C155.92,392.00 157.25,391.28 158.00,391.00 C158.75,390.72 159.18,391.00 160.00,390.50 C160.82,390.00 161.70,389.80 162.90,388.00 C164.10,386.20 166.10,382.37 167.20,379.70 C168.30,377.03 168.88,374.45 169.50,372.00 C170.12,369.55 170.57,367.83 170.90,365.00 C171.23,362.17 171.28,357.78 171.50,355.00 C171.72,352.22 171.87,349.05 172.20,348.30 C172.53,347.55 173.12,349.88 173.50,350.50 C173.88,351.12 174.17,352.00 174.50,352.00 C174.83,352.00 175.13,351.12 175.50,350.50 C175.87,349.88 176.32,347.38 176.70,348.30 C177.08,349.22 177.43,353.22 177.80,356.00 C178.17,358.78 178.45,362.17 178.90,365.00 C179.35,367.83 179.98,370.55 180.50,373.00 C181.02,375.45 181.42,377.37 182.00,379.70 C182.58,382.03 183.28,384.92 184.00,387.00 C184.72,389.08 185.92,391.33 186.30,392.20" fill="none" stroke="#4a1a5e" stroke-width="1.1" stroke-linejoin="round" clip-path="url(#c6)"/>
<path d="M143.10,392.40 L143.10,332.40 L204.10,332.40 L204.10,392.40" fill="none" stroke="#000" stroke-width="1.45" stroke-linejoin="miter"/>
<line x1="142.40" y1="392.40" x2="204.80" y2="392.40" stroke="#a7a2dc" stroke-width="1.4"/>
<line x1="143.10" y1="392.40" x2="204.10" y2="392.40" stroke="#4a1a5e" stroke-width="1.3" stroke-dasharray="1.6,3.2"/>
<line x1="146.70" y1="392.40" x2="146.70" y2="395.20" stroke="#000" stroke-width="1.0" />
<line x1="156.30" y1="392.40" x2="156.30" y2="395.20" stroke="#000" stroke-width="1.0" />
<line x1="165.40" y1="392.40" x2="165.40" y2="395.20" stroke="#000" stroke-width="1.0" />
<line x1="183.60" y1="392.40" x2="183.60" y2="395.20" stroke="#000" stroke-width="1.0" />
<line x1="197.90" y1="392.40" x2="197.90" y2="395.20" stroke="#000" stroke-width="1.0" />
<rect x="154.90" y="392.40" width="2.80" height="2.40" fill="#000" />
<line x1="170.88" y1="392.40" x2="170.88" y2="394.40" stroke="#000" stroke-width="0.75" />
<line x1="174.08" y1="392.40" x2="174.08" y2="394.40" stroke="#000" stroke-width="0.75" />
<line x1="176.36" y1="392.40" x2="176.36" y2="394.40" stroke="#000" stroke-width="0.75" />
<line x1="178.12" y1="392.40" x2="178.12" y2="394.40" stroke="#000" stroke-width="0.75" />
<line x1="179.56" y1="392.40" x2="179.56" y2="394.40" stroke="#000" stroke-width="0.75" />
<line x1="180.78" y1="392.40" x2="180.78" y2="394.40" stroke="#000" stroke-width="0.75" />
<line x1="181.84" y1="392.40" x2="181.84" y2="394.40" stroke="#000" stroke-width="0.75" />
<line x1="182.77" y1="392.40" x2="182.77" y2="394.40" stroke="#000" stroke-width="0.75" />
<line x1="187.90" y1="392.40" x2="187.90" y2="394.40" stroke="#000" stroke-width="0.75" />
<line x1="190.42" y1="392.40" x2="190.42" y2="394.40" stroke="#000" stroke-width="0.75" />
<line x1="192.21" y1="392.40" x2="192.21" y2="394.40" stroke="#000" stroke-width="0.75" />
<line x1="193.60" y1="392.40" x2="193.60" y2="394.40" stroke="#000" stroke-width="0.75" />
<line x1="194.73" y1="392.40" x2="194.73" y2="394.40" stroke="#000" stroke-width="0.75" />
<line x1="195.68" y1="392.40" x2="195.68" y2="394.40" stroke="#000" stroke-width="0.75" />
<line x1="196.51" y1="392.40" x2="196.51" y2="394.40" stroke="#000" stroke-width="0.75" />
<line x1="197.25" y1="392.40" x2="197.25" y2="394.40" stroke="#000" stroke-width="0.75" />
<line x1="149.10" y1="392.40" x2="149.10" y2="394.40" stroke="#000" stroke-width="0.75" />
<line x1="151.50" y1="392.40" x2="151.50" y2="394.40" stroke="#000" stroke-width="0.75" />
<line x1="153.90" y1="392.40" x2="153.90" y2="394.40" stroke="#000" stroke-width="0.75" />
<line x1="159.03" y1="392.40" x2="159.03" y2="394.40" stroke="#000" stroke-width="0.75" />
<line x1="161.31" y1="392.40" x2="161.31" y2="394.40" stroke="#000" stroke-width="0.75" />
<line x1="163.12" y1="392.40" x2="163.12" y2="394.40" stroke="#000" stroke-width="0.75" />
<line x1="164.49" y1="392.40" x2="164.49" y2="394.40" stroke="#000" stroke-width="0.75" />
<text x="147.00" y="405.00" font-size="6.4" text-anchor="middle" fill="#1e1e1e" stroke="#1e1e1e" stroke-width="0.16">-10<tspan font-size="3.9" dy="-2.6" stroke-width="0.12">3</tspan></text>
<text x="156.30" y="405.00" font-size="6.4" text-anchor="middle" fill="#1e1e1e" stroke="#1e1e1e" stroke-width="0.16">0</text>
<text x="166.00" y="405.00" font-size="6.4" text-anchor="middle" fill="#1e1e1e" stroke="#1e1e1e" stroke-width="0.16">10<tspan font-size="3.9" dy="-2.6" stroke-width="0.12">3</tspan></text>
<text x="184.20" y="405.00" font-size="6.4" text-anchor="middle" fill="#1e1e1e" stroke="#1e1e1e" stroke-width="0.16">10<tspan font-size="3.9" dy="-2.6" stroke-width="0.12">4</tspan></text>
<text x="198.50" y="405.00" font-size="6.4" text-anchor="middle" fill="#1e1e1e" stroke="#1e1e1e" stroke-width="0.16">10<tspan font-size="3.9" dy="-2.6" stroke-width="0.12">5</tspan></text>
<text x="172.40" y="417.60" font-size="8.4" text-anchor="middle" fill="#1e1e1e" stroke="#1e1e1e" stroke-width="0.16" textLength="23.20" lengthAdjust="spacingAndGlyphs">FcγRIIb</text>
<line x1="48.10" y1="431.40" x2="48.10" y2="512.50" stroke="#000" stroke-width="1.2" />
<line x1="47.50" y1="511.90" x2="99.80" y2="511.90" stroke="#000" stroke-width="1.4" />
<line x1="45.30" y1="511.90" x2="48.10" y2="511.90" stroke="#000" stroke-width="0.9" />
<text x="42.50" y="514.15" font-size="6.5" text-anchor="end" fill="#1e1e1e" stroke="#1e1e1e" stroke-width="0.16" textLength="9.40" lengthAdjust="spacingAndGlyphs">0.0</text>
<line x1="45.30" y1="485.95" x2="48.10" y2="485.95" stroke="#000" stroke-width="0.9" />
<text x="42.50" y="488.20" font-size="6.5" text-anchor="end" fill="#1e1e1e" stroke="#1e1e1e" stroke-width="0.16" textLength="9.40" lengthAdjust="spacingAndGlyphs">0.5</text>
<line x1="45.30" y1="460.00" x2="48.10" y2="460.00" stroke="#000" stroke-width="0.9" />
<text x="42.50" y="462.25" font-size="6.5" text-anchor="end" fill="#1e1e1e" stroke="#1e1e1e" stroke-width="0.16" textLength="9.40" lengthAdjust="spacingAndGlyphs">1.0</text>
<line x1="45.30" y1="434.05" x2="48.10" y2="434.05" stroke="#000" stroke-width="0.9" />
<text x="42.50" y="436.30" font-size="6.5" text-anchor="end" fill="#1e1e1e" stroke="#1e1e1e" stroke-width="0.16" textLength="9.40" lengthAdjust="spacingAndGlyphs">1.5</text>
<rect x="55.70" y="460.30" width="14.80" height="51.60" fill="#c6c4c9" />
<line x1="63.10" y1="460.30" x2="63.10" y2="451.20" stroke="#000" stroke-width="0.9" />
<line x1="59.70" y1="451.20" x2="66.50" y2="451.20" stroke="#000" stroke-width="1.0" />
<circle cx="63.00" cy="449.00" r="1.15" fill="#000"/>
<circle cx="63.00" cy="453.50" r="1.15" fill="#000"/>
<circle cx="63.00" cy="477.60" r="1.15" fill="#000"/>
<rect x="77.80" y="503.00" width="15.20" height="8.90" fill="url(#stG)" />
<line x1="85.40" y1="503.00" x2="85.40" y2="501.90" stroke="#000" stroke-width="0.9" />
<line x1="82.00" y1="501.90" x2="88.80" y2="501.90" stroke="#000" stroke-width="1.0" />
<circle cx="81.60" cy="501.90" r="1.15" fill="#000"/>
<circle cx="85.00" cy="503.90" r="1.15" fill="#000"/>
<circle cx="88.80" cy="501.90" r="1.15" fill="#000"/>
<text x="14.60" y="471.50" font-size="7.2" text-anchor="middle" fill="#1e1e1e" stroke="#1e1e1e" stroke-width="0.16" textLength="17.80" lengthAdjust="spacingAndGlyphs" transform="rotate(-90 14.60 471.50)">FcγRI</text>
<text x="21.70" y="470.00" font-size="7.7" text-anchor="middle" fill="#1e1e1e" stroke="#1e1e1e" stroke-width="0.16" textLength="49.00" lengthAdjust="spacingAndGlyphs" transform="rotate(-90 21.70 470.00)">relative Δ MFI</text>
<line x1="63.20" y1="444.30" x2="84.00" y2="444.30" stroke="#333" stroke-width="1.1" />
<circle cx="72.45" cy="441.30" r="0.9" fill="#333"/>
<circle cx="74.75" cy="441.30" r="0.9" fill="#333"/>
<text x="41.60" y="520.80" font-size="7.0" text-anchor="end" fill="#1e1e1e" stroke="#1e1e1e" stroke-width="0.16" textLength="24.60" lengthAdjust="spacingAndGlyphs">Targets:</text>
<line x1="61.50" y1="518.50" x2="64.50" y2="518.50" stroke="#333" stroke-width="0.7" />
<line x1="63.00" y1="517.00" x2="63.00" y2="520.00" stroke="#333" stroke-width="0.7" />
<line x1="83.80" y1="518.50" x2="86.80" y2="518.50" stroke="#333" stroke-width="0.7" />
<line x1="85.30" y1="517.00" x2="85.30" y2="520.00" stroke="#333" stroke-width="0.7" />
<text x="41.60" y="531.70" font-size="7.0" text-anchor="end" fill="#1e1e1e" stroke="#1e1e1e" stroke-width="0.16" textLength="16.40" lengthAdjust="spacingAndGlyphs">ALM:</text>
<line x1="62.10" y1="529.60" x2="63.90" y2="529.60" stroke="#333" stroke-width="0.7" />
<line x1="83.80" y1="529.40" x2="86.80" y2="529.40" stroke="#333" stroke-width="0.7" />
<line x1="85.30" y1="527.90" x2="85.30" y2="530.90" stroke="#333" stroke-width="0.7" />
<line x1="150.50" y1="431.40" x2="150.50" y2="512.50" stroke="#000" stroke-width="1.2" />
<line x1="149.90" y1="511.90" x2="202.40" y2="511.90" stroke="#000" stroke-width="1.4" />
<line x1="147.70" y1="511.90" x2="150.50" y2="511.90" stroke="#000" stroke-width="0.9" />
<text x="144.90" y="514.15" font-size="6.5" text-anchor="end" fill="#1e1e1e" stroke="#1e1e1e" stroke-width="0.16" textLength="9.40" lengthAdjust="spacingAndGlyphs">0.0</text>
<line x1="147.70" y1="485.95" x2="150.50" y2="485.95" stroke="#000" stroke-width="0.9" />
<text x="144.90" y="488.20" font-size="6.5" text-anchor="end" fill="#1e1e1e" stroke="#1e1e1e" stroke-width="0.16" textLength="9.40" lengthAdjust="spacingAndGlyphs">0.5</text>
<line x1="147.70" y1="460.00" x2="150.50" y2="460.00" stroke="#000" stroke-width="0.9" />
<text x="144.90" y="462.25" font-size="6.5" text-anchor="end" fill="#1e1e1e" stroke="#1e1e1e" stroke-width="0.16" textLength="9.40" lengthAdjust="spacingAndGlyphs">1.0</text>
<line x1="147.70" y1="434.05" x2="150.50" y2="434.05" stroke="#000" stroke-width="0.9" />
<text x="144.90" y="436.30" font-size="6.5" text-anchor="end" fill="#1e1e1e" stroke="#1e1e1e" stroke-width="0.16" textLength="9.40" lengthAdjust="spacingAndGlyphs">1.5</text>
<rect x="157.60" y="460.30" width="15.10" height="51.60" fill="#c6c4c9" />
<line x1="165.15" y1="460.30" x2="165.15" y2="450.80" stroke="#000" stroke-width="0.9" />
<line x1="161.75" y1="450.80" x2="168.55" y2="450.80" stroke="#000" stroke-width="1.0" />
<circle cx="165.80" cy="444.30" r="1.15" fill="#000"/>
<circle cx="165.80" cy="459.30" r="1.15" fill="#000"/>
<circle cx="165.80" cy="476.10" r="1.15" fill="#000"/>
<rect x="180.20" y="494.10" width="15.00" height="17.80" fill="url(#stP)" />
<line x1="187.70" y1="494.10" x2="187.70" y2="488.30" stroke="#000" stroke-width="0.9" />
<line x1="184.30" y1="488.30" x2="191.10" y2="488.30" stroke="#000" stroke-width="1.0" />
<circle cx="187.70" cy="484.70" r="1.15" fill="#000"/>
<circle cx="187.70" cy="492.60" r="1.15" fill="#000"/>
<circle cx="187.70" cy="504.80" r="1.15" fill="#000"/>
<text x="116.40" y="472.70" font-size="7.6" text-anchor="middle" fill="#1e1e1e" stroke="#1e1e1e" stroke-width="0.16" textLength="24.70" lengthAdjust="spacingAndGlyphs" transform="rotate(-90 116.40 472.70)">FcRγIIb</text>
<text x="128.80" y="470.90" font-size="7.7" text-anchor="middle" fill="#1e1e1e" stroke="#1e1e1e" stroke-width="0.16" textLength="46.80" lengthAdjust="spacingAndGlyphs" transform="rotate(-90 128.80 470.90)">relative Δ MFI</text>
<line x1="166.20" y1="439.60" x2="186.60" y2="439.60" stroke="#333" stroke-width="1.1" />
<circle cx="175.25" cy="436.60" r="0.9" fill="#333"/>
<circle cx="177.55" cy="436.60" r="0.9" fill="#333"/>
<text x="144.40" y="520.80" font-size="7.0" text-anchor="end" fill="#1e1e1e" stroke="#1e1e1e" stroke-width="0.16" textLength="24.60" lengthAdjust="spacingAndGlyphs">Targets:</text>
<line x1="164.00" y1="518.50" x2="167.00" y2="518.50" stroke="#333" stroke-width="0.7" />
<line x1="165.50" y1="517.00" x2="165.50" y2="520.00" stroke="#333" stroke-width="0.7" />
<line x1="186.20" y1="518.50" x2="189.20" y2="518.50" stroke="#333" stroke-width="0.7" />
<line x1="187.70" y1="517.00" x2="187.70" y2="520.00" stroke="#333" stroke-width="0.7" />
<text x="144.40" y="531.70" font-size="7.0" text-anchor="end" fill="#1e1e1e" stroke="#1e1e1e" stroke-width="0.16" textLength="16.40" lengthAdjust="spacingAndGlyphs">ALM:</text>
<line x1="164.60" y1="529.60" x2="166.40" y2="529.60" stroke="#333" stroke-width="0.7" />
<line x1="186.20" y1="529.40" x2="189.20" y2="529.40" stroke="#333" stroke-width="0.7" />
<line x1="187.70" y1="527.90" x2="187.70" y2="530.90" stroke="#333" stroke-width="0.7" />
<text x="281.70" y="321.80" font-size="8.2" text-anchor="middle" fill="#1e1e1e" stroke="#1e1e1e" stroke-width="0.05" textLength="28.30" lengthAdjust="spacingAndGlyphs">BMDM</text>
<text x="382.60" y="321.30" font-size="8.2" text-anchor="middle" fill="#1e1e1e" stroke="#1e1e1e" stroke-width="0.05" textLength="27.50" lengthAdjust="spacingAndGlyphs">hMDM</text>
<line x1="259.90" y1="327.00" x2="259.90" y2="395.90" stroke="#000" stroke-width="1.2" />
<line x1="259.30" y1="395.30" x2="303.50" y2="395.30" stroke="#000" stroke-width="1.4" />
<line x1="257.10" y1="395.30" x2="259.90" y2="395.30" stroke="#000" stroke-width="0.9" />
<text x="254.30" y="397.55" font-size="6.5" text-anchor="end" fill="#1e1e1e" stroke="#1e1e1e" stroke-width="0.16" textLength="9.40" lengthAdjust="spacingAndGlyphs">0.0</text>
<line x1="257.10" y1="373.55" x2="259.90" y2="373.55" stroke="#000" stroke-width="0.9" />
<text x="254.30" y="375.80" font-size="6.5" text-anchor="end" fill="#1e1e1e" stroke="#1e1e1e" stroke-width="0.16" textLength="9.40" lengthAdjust="spacingAndGlyphs">0.5</text>
<line x1="257.10" y1="351.80" x2="259.90" y2="351.80" stroke="#000" stroke-width="0.9" />
<text x="254.30" y="354.05" font-size="6.5" text-anchor="end" fill="#1e1e1e" stroke="#1e1e1e" stroke-width="0.16" textLength="9.40" lengthAdjust="spacingAndGlyphs">1.0</text>
<line x1="257.10" y1="330.05" x2="259.90" y2="330.05" stroke="#000" stroke-width="0.9" />
<text x="254.30" y="332.30" font-size="6.5" text-anchor="end" fill="#1e1e1e" stroke="#1e1e1e" stroke-width="0.16" textLength="9.40" lengthAdjust="spacingAndGlyphs">1.5</text>
<rect x="266.20" y="351.80" width="12.80" height="43.50" fill="#c6c4c9" />
<line x1="272.60" y1="351.80" x2="272.60" y2="346.60" stroke="#000" stroke-width="0.9" />
<line x1="269.20" y1="346.60" x2="276.00" y2="346.60" stroke="#000" stroke-width="1.0" />
<circle cx="272.60" cy="342.50" r="1.15" fill="#000"/>
<circle cx="272.60" cy="350.70" r="1.15" fill="#000"/>
<circle cx="272.60" cy="362.10" r="1.15" fill="#000"/>
<rect x="284.90" y="352.50" width="13.10" height="42.80" fill="#da8a16" />
<line x1="291.45" y1="352.50" x2="291.45" y2="347.20" stroke="#000" stroke-width="0.9" />
<line x1="288.05" y1="347.20" x2="294.85" y2="347.20" stroke="#000" stroke-width="1.0" />
<circle cx="291.30" cy="345.00" r="1.15" fill="#000"/>
<circle cx="291.30" cy="349.30" r="1.15" fill="#000"/>
<circle cx="291.30" cy="363.90" r="1.15" fill="#000"/>
<text x="228.00" y="360.70" font-size="8.6" text-anchor="middle" fill="#1e1e1e" stroke="#1e1e1e" stroke-width="0.16" textLength="20.70" lengthAdjust="spacingAndGlyphs" transform="rotate(-90 228.00 360.70)">CD11b</text>
<text x="236.30" y="361.70" font-size="8.0" text-anchor="middle" fill="#1e1e1e" stroke="#1e1e1e" stroke-width="0.16" textLength="46.40" lengthAdjust="spacingAndGlyphs" transform="rotate(-90 236.30 361.70)">relative Δ MFI</text>
<text x="253.60" y="404.40" font-size="7.0" text-anchor="end" fill="#1e1e1e" stroke="#1e1e1e" stroke-width="0.16" textLength="24.00" lengthAdjust="spacingAndGlyphs">Targets:</text>
<line x1="271.10" y1="402.10" x2="274.10" y2="402.10" stroke="#333" stroke-width="0.7" />
<line x1="272.60" y1="400.60" x2="272.60" y2="403.60" stroke="#333" stroke-width="0.7" />
<line x1="289.80" y1="402.10" x2="292.80" y2="402.10" stroke="#333" stroke-width="0.7" />
<line x1="291.30" y1="400.60" x2="291.30" y2="403.60" stroke="#333" stroke-width="0.7" />
<text x="253.60" y="415.30" font-size="7.0" text-anchor="end" fill="#1e1e1e" stroke="#1e1e1e" stroke-width="0.16" textLength="29.40" lengthAdjust="spacingAndGlyphs">αCD90.2:</text>
<line x1="271.70" y1="413.20" x2="273.50" y2="413.20" stroke="#333" stroke-width="0.7" />
<line x1="289.80" y1="413.00" x2="292.80" y2="413.00" stroke="#333" stroke-width="0.7" />
<line x1="291.30" y1="411.50" x2="291.30" y2="414.50" stroke="#333" stroke-width="0.7" />
<line x1="360.00" y1="326.70" x2="360.00" y2="395.90" stroke="#000" stroke-width="1.2" />
<line x1="359.40" y1="395.30" x2="404.30" y2="395.30" stroke="#000" stroke-width="1.4" />
<line x1="357.20" y1="395.30" x2="360.00" y2="395.30" stroke="#000" stroke-width="0.9" />
<text x="354.40" y="397.55" font-size="6.5" text-anchor="end" fill="#1e1e1e" stroke="#1e1e1e" stroke-width="0.16" textLength="9.40" lengthAdjust="spacingAndGlyphs">0.0</text>
<line x1="357.20" y1="373.55" x2="360.00" y2="373.55" stroke="#000" stroke-width="0.9" />
<text x="354.40" y="375.80" font-size="6.5" text-anchor="end" fill="#1e1e1e" stroke="#1e1e1e" stroke-width="0.16" textLength="9.40" lengthAdjust="spacingAndGlyphs">0.5</text>
<line x1="357.20" y1="351.80" x2="360.00" y2="351.80" stroke="#000" stroke-width="0.9" />
<text x="354.40" y="354.05" font-size="6.5" text-anchor="end" fill="#1e1e1e" stroke="#1e1e1e" stroke-width="0.16" textLength="9.40" lengthAdjust="spacingAndGlyphs">1.0</text>
<line x1="357.20" y1="330.05" x2="360.00" y2="330.05" stroke="#000" stroke-width="0.9" />
<text x="354.40" y="332.30" font-size="6.5" text-anchor="end" fill="#1e1e1e" stroke="#1e1e1e" stroke-width="0.16" textLength="9.40" lengthAdjust="spacingAndGlyphs">1.5</text>
<rect x="367.10" y="351.60" width="11.90" height="43.70" fill="#c6c4c9" />
<line x1="373.05" y1="351.60" x2="373.05" y2="347.40" stroke="#000" stroke-width="0.9" />
<line x1="369.65" y1="347.40" x2="376.45" y2="347.40" stroke="#000" stroke-width="1.0" />
<circle cx="372.90" cy="344.00" r="1.15" fill="#000"/>
<circle cx="372.90" cy="351.50" r="1.15" fill="#000"/>
<circle cx="372.90" cy="358.20" r="1.15" fill="#000"/>
<rect x="385.10" y="355.10" width="12.90" height="40.20" fill="url(#stO)" />
<line x1="391.55" y1="355.10" x2="391.55" y2="351.80" stroke="#000" stroke-width="0.9" />
<line x1="388.15" y1="351.80" x2="394.95" y2="351.80" stroke="#000" stroke-width="1.0" />
<circle cx="391.80" cy="348.60" r="1.15" fill="#000"/>
<circle cx="390.30" cy="358.80" r="1.15" fill="#000"/>
<circle cx="393.30" cy="357.00" r="1.15" fill="#000"/>
<text x="328.20" y="360.70" font-size="8.6" text-anchor="middle" fill="#1e1e1e" stroke="#1e1e1e" stroke-width="0.16" textLength="20.70" lengthAdjust="spacingAndGlyphs" transform="rotate(-90 328.20 360.70)">CD11b</text>
<text x="336.40" y="362.90" font-size="8.0" text-anchor="middle" fill="#1e1e1e" stroke="#1e1e1e" stroke-width="0.16" textLength="46.80" lengthAdjust="spacingAndGlyphs" transform="rotate(-90 336.40 362.90)">relative ΔMFI</text>
<text x="353.40" y="404.40" font-size="7.0" text-anchor="end" fill="#1e1e1e" stroke="#1e1e1e" stroke-width="0.16" textLength="24.00" lengthAdjust="spacingAndGlyphs">Targets:</text>
<line x1="371.50" y1="402.10" x2="374.50" y2="402.10" stroke="#333" stroke-width="0.7" />
<line x1="373.00" y1="400.60" x2="373.00" y2="403.60" stroke="#333" stroke-width="0.7" />
<line x1="390.40" y1="402.10" x2="393.40" y2="402.10" stroke="#333" stroke-width="0.7" />
<line x1="391.90" y1="400.60" x2="391.90" y2="403.60" stroke="#333" stroke-width="0.7" />
<text x="353.40" y="415.30" font-size="7.0" text-anchor="end" fill="#1e1e1e" stroke="#1e1e1e" stroke-width="0.16" textLength="15.80" lengthAdjust="spacingAndGlyphs">ALM:</text>
<line x1="372.10" y1="413.20" x2="373.90" y2="413.20" stroke="#333" stroke-width="0.7" />
<line x1="390.40" y1="413.00" x2="393.40" y2="413.00" stroke="#333" stroke-width="0.7" />
<line x1="391.90" y1="411.50" x2="391.90" y2="414.50" stroke="#333" stroke-width="0.7" />
</svg>
<div class="frame"></div>
</body></html>
